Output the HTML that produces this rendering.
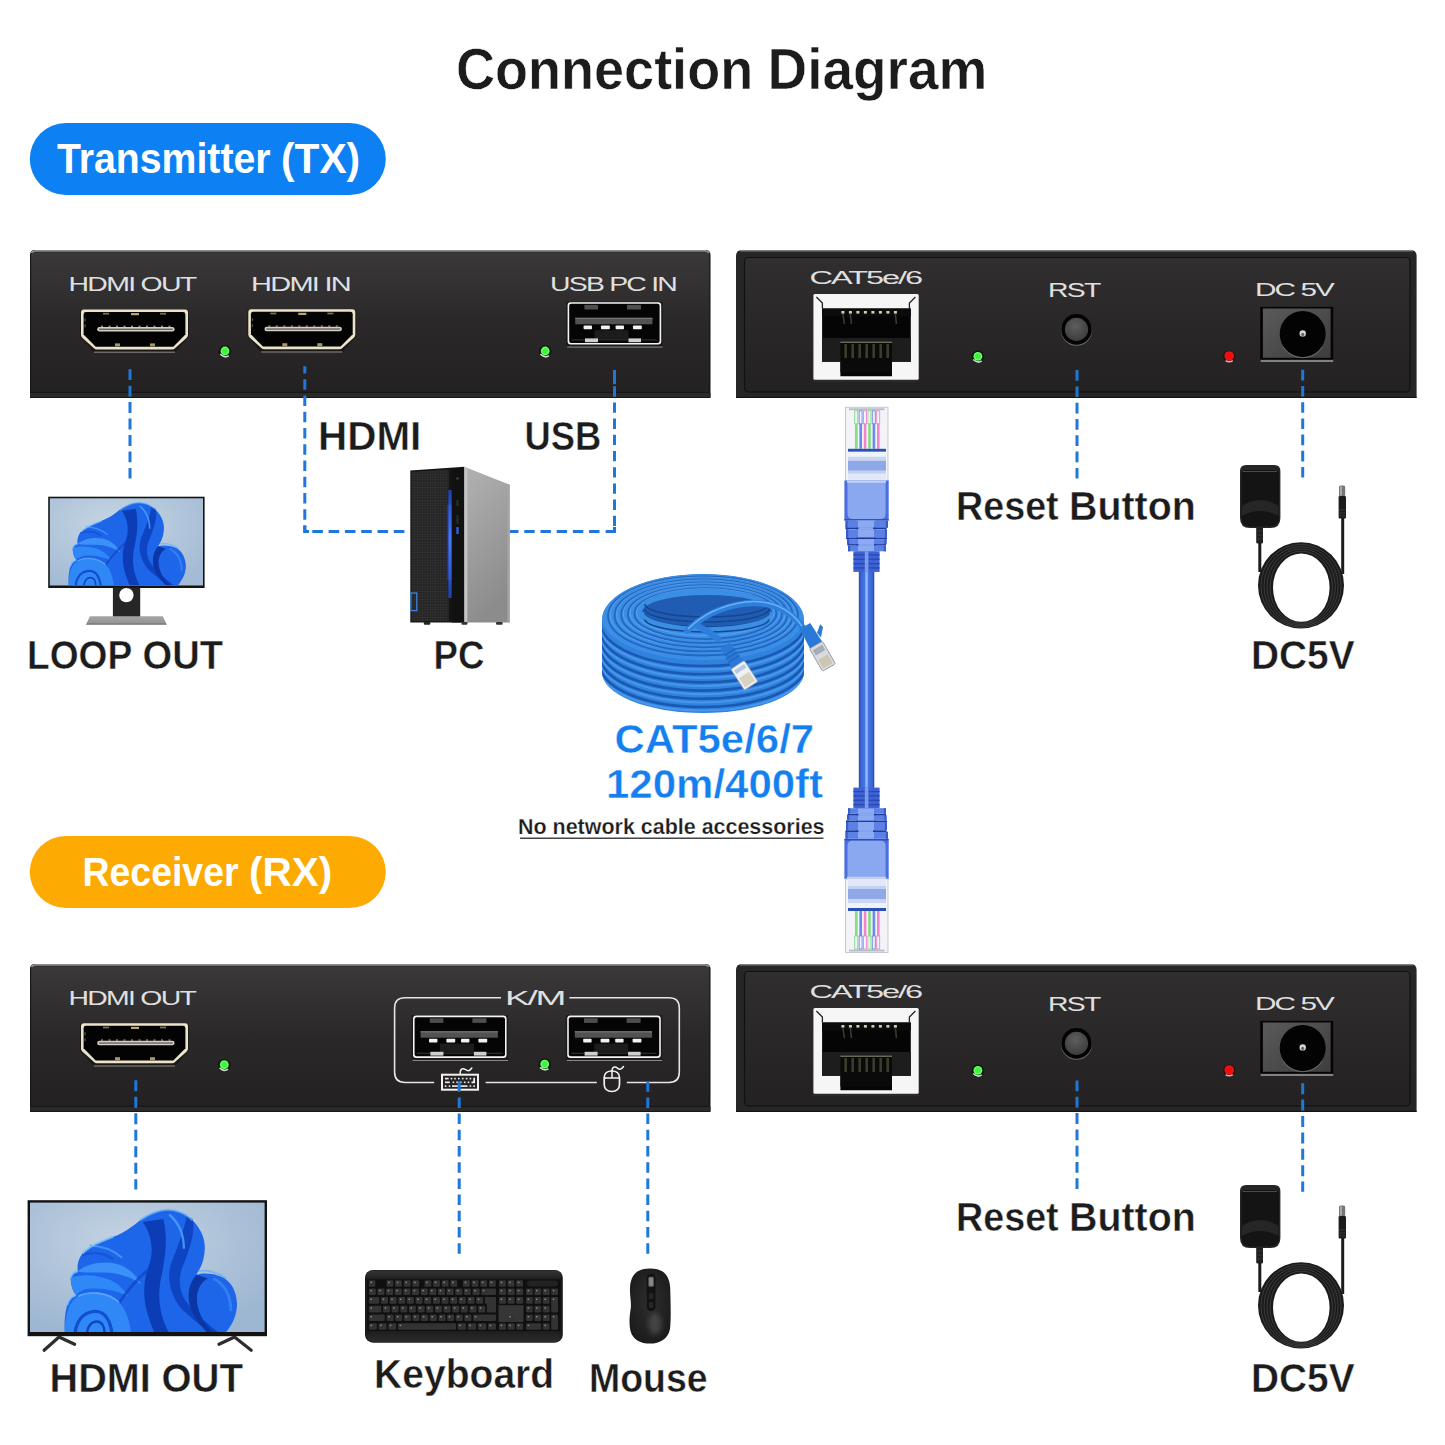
<!DOCTYPE html>
<html><head><meta charset="utf-8"><title>Connection Diagram</title>
<style>html,body{margin:0;padding:0;background:#fff;}svg{display:block;}</style></head>
<body><svg width="1445" height="1445" viewBox="0 0 1445 1445" font-family="Liberation Sans, sans-serif">
<defs>
<linearGradient id="faceL" x1="0" y1="0" x2="0" y2="1"><stop offset="0" stop-color="#3a3839"/><stop offset="0.5" stop-color="#2a2829"/><stop offset="1" stop-color="#232122"/></linearGradient>
<linearGradient id="faceR" x1="0" y1="0" x2="0" y2="1"><stop offset="0" stop-color="#302e2f"/><stop offset="0.5" stop-color="#292728"/><stop offset="1" stop-color="#232122"/></linearGradient>
<linearGradient id="dcg" x1="0" y1="0" x2="1" y2="1"><stop offset="0" stop-color="#5a5a5a"/><stop offset="1" stop-color="#3e3e3e"/></linearGradient>
<radialGradient id="rstg" cx="0.45" cy="0.35" r="0.7"><stop offset="0" stop-color="#5e5e5e"/><stop offset="1" stop-color="#3a3a3a"/></radialGradient>
</defs>
<rect width="1445" height="1445" fill="#ffffff"/>
<defs>
<radialGradient id="scr1" cx="0.42" cy="0.3" r="0.75"><stop offset="0" stop-color="#c6d5e4"/><stop offset="1" stop-color="#a3bbd4"/></radialGradient>
<radialGradient id="scr2" cx="0.42" cy="0.3" r="0.75"><stop offset="0" stop-color="#c4d3e3"/><stop offset="1" stop-color="#9db6d1"/></radialGradient>
<linearGradient id="mb1" x1="0" y1="0" x2="1" y2="1"><stop offset="0" stop-color="#2c7df2"/><stop offset="0.6" stop-color="#1c5fe0"/><stop offset="1" stop-color="#1448c8"/></linearGradient>
<linearGradient id="tb1" x1="0" y1="0" x2="1" y2="1"><stop offset="0" stop-color="#2c7df2"/><stop offset="0.6" stop-color="#1c5fe0"/><stop offset="1" stop-color="#1448c8"/></linearGradient>
<linearGradient id="cableg" x1="0" y1="0" x2="1" y2="0"><stop offset="0" stop-color="#2b4ca8"/><stop offset="0.15" stop-color="#3a66d6"/><stop offset="0.38" stop-color="#4675de"/><stop offset="0.45" stop-color="#8ab4ff"/><stop offset="0.55" stop-color="#8ab4ff"/><stop offset="0.62" stop-color="#4675de"/><stop offset="0.85" stop-color="#3a66d6"/><stop offset="1" stop-color="#2b4ca8"/></linearGradient>
<linearGradient id="base1" x1="0" y1="0" x2="0" y2="1"><stop offset="0" stop-color="#a6a6a6"/><stop offset="0.75" stop-color="#959595"/><stop offset="1" stop-color="#6a6a6a"/></linearGradient>
<linearGradient id="side" x1="0" y1="0" x2="0.3" y2="1"><stop offset="0" stop-color="#b2b2b2"/><stop offset="1" stop-color="#8c8c8c"/></linearGradient>
<pattern id="meshp" width="2.6" height="2.6" patternUnits="userSpaceOnUse"><rect width="2.6" height="2.6" fill="#222"/><circle cx="1.3" cy="1.3" r="0.85" fill="#3a3a3a"/></pattern><linearGradient id="pcblue" x1="0" y1="0" x2="0" y2="1"><stop offset="0" stop-color="#1a3fb0"/><stop offset="0.45" stop-color="#4a7bff"/><stop offset="1" stop-color="#1a3fb0"/></linearGradient>
<linearGradient id="adg" x1="0" y1="0" x2="0" y2="1"><stop offset="0" stop-color="#2a2a2a"/><stop offset="1" stop-color="#151515"/></linearGradient>
<linearGradient id="kbtop" x1="0" y1="0" x2="0" y2="1"><stop offset="0" stop-color="#343434"/><stop offset="1" stop-color="#1e1e1e"/></linearGradient><linearGradient id="kbbot" x1="0" y1="0" x2="0" y2="1"><stop offset="0" stop-color="#1e1e1e"/><stop offset="1" stop-color="#2c2c2c"/></linearGradient>
<filter id="blur3" x="-50%" y="-50%" width="200%" height="200%"><feGaussianBlur stdDeviation="2.6"/></filter>
<radialGradient id="mouseg" cx="0.5" cy="0.45" r="0.7"><stop offset="0" stop-color="#2e2e2e"/><stop offset="0.8" stop-color="#1c1c1c"/><stop offset="1" stop-color="#111"/></radialGradient>
</defs><g>
<rect x="48.2" y="496.7" width="156.4" height="91.3" fill="#141414"/>
<rect x="49.8" y="498.3" width="153.2" height="87.2" fill="url(#scr1)"/>
<clipPath id="clipmon"><rect x="49.8" y="498.3" width="153.2" height="87.2"/></clipPath>
<g clip-path="url(#clipmon)"><g transform="translate(65.7,502.8) scale(1.0,1.0)">
<path d="M3,82.5 C2.5,76 3,70 4.5,64 C6,59 9,57.5 10.7,57.2 C8.5,55 7,50 7,45.5 C8,42 10,41.3 11.8,41.2 C11.2,37 12.5,32 15.1,29.2 C20,24 28,21 36,18 C44,15 49,11 54,7 C60,3 66,0 73,-0.2 C80,0 86,3 90,7 C95,12 98,18 98.2,24 C98.5,30 97,36 94,41 C93,42.5 92.5,43 92.7,43.5 C97,42 104,42.5 110,45 C116,48 119.5,54 120.1,62 C120.5,70 117,77 112.3,82.5 Z" fill="#1d66ea"/>
<path d="M3,82.5 C3,72 5,62 12,58 C20,54 32,55 40,62 C45,67 47,75 48,82.5 Z" fill="#3088f7"/>
<path d="M10,82.5 C11,74 16,68 24,68 C30,68 34,74 35,82.5" stroke="#114fd0" stroke-width="2.2" fill="none"/>
<path d="M18,82.5 C19,77 22,74 26,75 C29,76 30,79 30,82.5" stroke="#0d45c2" stroke-width="1.6" fill="none"/>
<path d="M7,45.5 C14,43 24,43 34,47 C40,50 44,54 46,58 C38,54 28,52 18,53 C14,54 11,56 10.7,57.2 C8.5,55 7,50 7,45.5 Z" fill="#2f88f7"/>
<path d="M11.8,41.2 C18,36 28,34 38,36 C46,38 52,44 55,50 C50,46 40,42 30,42 C22,42 16,42 11.8,41.2 Z" fill="#3c91f8"/>
<path d="M15,30 C22,28 30,29 36,33" stroke="#1556d6" stroke-width="1.8" fill="none"/>
<path d="M20,24 C28,24 36,27 42,32" stroke="#4a9cff" stroke-width="1.3" fill="none" opacity="0.8"/>
<path d="M56,8 C62,16 64,28 60,38 C56,48 56,60 60,72 C62,78 64,82.5 64,82.5 L74,82.5 C68,72 66,60 68,48 C70,38 74,22 70,6 Z" fill="#0c3db6"/>
<path d="M86,4 C84,14 80,24 76,34 C72,44 74,56 82,66 C88,72 96,78 102,82.5 L108,82.5 C100,76 92,70 86,62 C80,54 80,44 84,36 C88,26 92,14 90,6 Z" fill="#0e44c2"/>
<path d="M92.7,43.5 C88,48 86,56 88,64 C90,72 96,78 100,82.5 L104,82.5 C98,76 94,70 93,62 C92,54 96,48 100.3,46 Z" fill="#0a36a6"/>
<path d="M74,3 C80,8 84,16 84,26" stroke="#4d9dfa" stroke-width="1.6" fill="none" opacity="0.85"/>
<path d="M104,46 C112,50 116,58 116,68" stroke="#3a86f4" stroke-width="2" fill="none" opacity="0.8"/>
<path d="M40,62 C46,54 52,46 60,40" stroke="#1049c6" stroke-width="2" fill="none" opacity="0.8"/>
<path d="M4.5,64 C6,59 9,57.5 10.7,57.2 M7,45.5 C8,42 10,41.3 11.8,41.2 M15.1,29.2 C20,24 28,21 36,18" stroke="#7cc0ff" stroke-width="1.4" fill="none" opacity="0.8"/>
<path d="M54,7 C60,3 66,0 73,-0.2 C80,0 86,3 90,7" stroke="#6ab4ff" stroke-width="1.4" fill="none" opacity="0.7"/>
<path d="M12,58 C20,54 32,55 40,62" stroke="#6ab4ff" stroke-width="1.2" fill="none" opacity="0.7"/>
<path d="M94,41 C100,40 108,42 113,46" stroke="#5aa8ff" stroke-width="1.2" fill="none" opacity="0.6"/>
</g></g>
<rect x="112.9" y="587.6" width="27.3" height="30.6" fill="#262626"/>
<circle cx="126.4" cy="595.1" r="7.2" fill="#fff"/>
<path d="M89.9,616.2 H162.8 L166.8,624.7 H85.9 Z" fill="url(#base1)"/>
</g><g>
<path d="M410.3,470.6 L464.4,466.8 V622.5 H410.3 Z" fill="#151515"/>
<path d="M411.6,472 L448.5,469.6 V621.2 H411.6 Z" fill="url(#meshp)"/>
<rect x="448.4" y="490" width="3.4" height="108" fill="url(#pcblue)"/>
<rect x="446.8" y="505" width="6.6" height="75" fill="#2f6bff" opacity="0.25"/>
<rect x="451.8" y="468" width="12.6" height="154.5" fill="#111"/>
<circle cx="457.5" cy="478.5" r="1.4" fill="#3a3a3a"/>
<rect x="456.4" y="500" width="2.2" height="6" fill="#2c2c2c"/><rect x="456.4" y="515" width="2.2" height="9" fill="#2a2a2a"/><rect x="456.2" y="527" width="2.6" height="7" fill="#2f58c8"/>
<path d="M464.4,466.8 L509.7,484.7 V622.5 H464.4 Z" fill="url(#side)"/>
<path d="M464.4,466.8 L467.4,468 V622.5 H464.4 Z" fill="#c4c4c4"/>
<path d="M507.5,483.8 L509.7,484.7 V622.5 H507.5 Z" fill="#a6a6a6"/>
<rect x="410.9" y="593" width="5.9" height="17.6" fill="none" stroke="#3d82d8" stroke-width="1.3"/>
<rect x="423.8" y="622" width="6.5" height="2.8" rx="1" fill="#222"/><rect x="461.5" y="622" width="6" height="2.8" rx="1" fill="#333"/><rect x="496" y="622" width="6.6" height="2.8" rx="1" fill="#333"/>
</g><g><clipPath id="coilclip"><path d="M602,620 A101,46 0 0 1 804,620 V672 A101,41 0 0 1 602,672 Z"/></clipPath><path d="M602,620 A101,46 0 0 1 804,620 V672 A101,41 0 0 1 602,672 Z" fill="#2f82de"/><g clip-path="url(#coilclip)"><path d="M596,580.0 A107,50 0 0 0 810,580.0" transform="translate(0,0)" stroke="none" fill="none"/><path d="M596,588.6 A107,50 0 0 0 810,588.6" transform="translate(0,0)" stroke="none" fill="none"/><path d="M596,597.2 A107,50 0 0 0 810,597.2" transform="translate(0,0)" stroke="none" fill="none"/><path d="M596,605.8 A107,50 0 0 0 810,605.8" transform="translate(0,0)" stroke="none" fill="none"/><path d="M596,614.4 A107,50 0 0 0 810,614.4" transform="translate(0,0)" stroke="none" fill="none"/><path d="M596,623.0 A107,50 0 0 0 810,623.0" transform="translate(0,0)" stroke="none" fill="none"/><path d="M596,631.6 A107,50 0 0 0 810,631.6" transform="translate(0,0)" stroke="none" fill="none"/><path d="M596,640.2 A107,50 0 0 0 810,640.2" transform="translate(0,0)" stroke="none" fill="none"/><path d="M596,648.8 A107,50 0 0 0 810,648.8" transform="translate(0,0)" stroke="none" fill="none"/><path d="M596,657.4 A107,50 0 0 0 810,657.4" transform="translate(0,0)" stroke="none" fill="none"/><path d="M600,622.0 A103,44.0 0 0 0 806,622.0" stroke="#1b58b4" stroke-width="2.6" fill="none"/><path d="M600,625.6 A103,44.0 0 0 0 806,625.6" stroke="#4d9cee" stroke-width="2" fill="none" opacity="0.8"/><path d="M600,630.6 A103,43.6 0 0 0 806,630.6" stroke="#1b58b4" stroke-width="2.6" fill="none"/><path d="M600,634.2 A103,43.6 0 0 0 806,634.2" stroke="#4d9cee" stroke-width="2" fill="none" opacity="0.8"/><path d="M600,639.2 A103,43.2 0 0 0 806,639.2" stroke="#1b58b4" stroke-width="2.6" fill="none"/><path d="M600,642.8000000000001 A103,43.2 0 0 0 806,642.8000000000001" stroke="#4d9cee" stroke-width="2" fill="none" opacity="0.8"/><path d="M600,647.8 A103,42.8 0 0 0 806,647.8" stroke="#1b58b4" stroke-width="2.6" fill="none"/><path d="M600,651.4 A103,42.8 0 0 0 806,651.4" stroke="#4d9cee" stroke-width="2" fill="none" opacity="0.8"/><path d="M600,656.4 A103,42.4 0 0 0 806,656.4" stroke="#1b58b4" stroke-width="2.6" fill="none"/><path d="M600,660.0 A103,42.4 0 0 0 806,660.0" stroke="#4d9cee" stroke-width="2" fill="none" opacity="0.8"/><path d="M600,665.0 A103,42.0 0 0 0 806,665.0" stroke="#1b58b4" stroke-width="2.6" fill="none"/><path d="M600,668.6 A103,42.0 0 0 0 806,668.6" stroke="#4d9cee" stroke-width="2" fill="none" opacity="0.8"/><path d="M600,673.6 A103,41.6 0 0 0 806,673.6" stroke="#1b58b4" stroke-width="2.6" fill="none"/><path d="M600,677.2 A103,41.6 0 0 0 806,677.2" stroke="#4d9cee" stroke-width="2" fill="none" opacity="0.8"/><path d="M600,682.2 A103,41.2 0 0 0 806,682.2" stroke="#1b58b4" stroke-width="2.6" fill="none"/><path d="M600,685.8000000000001 A103,41.2 0 0 0 806,685.8000000000001" stroke="#4d9cee" stroke-width="2" fill="none" opacity="0.8"/><path d="M600,690.8 A103,40.8 0 0 0 806,690.8" stroke="#1b58b4" stroke-width="2.6" fill="none"/><path d="M600,694.4 A103,40.8 0 0 0 806,694.4" stroke="#4d9cee" stroke-width="2" fill="none" opacity="0.8"/><path d="M600,699.4 A103,40.4 0 0 0 806,699.4" stroke="#1b58b4" stroke-width="2.6" fill="none"/><path d="M600,703.0 A103,40.4 0 0 0 806,703.0" stroke="#4d9cee" stroke-width="2" fill="none" opacity="0.8"/><ellipse cx="703" cy="617" rx="101" ry="43" fill="#3a8fe4"/><ellipse cx="703.0" cy="616.0" rx="95" ry="39.5" fill="none" stroke="#2366c4" stroke-width="1.8"/><ellipse cx="703.0" cy="614.5" rx="93" ry="37.5" fill="none" stroke="#62abf2" stroke-width="1" opacity="0.7"/><ellipse cx="703.6" cy="615.4" rx="89" ry="36" fill="none" stroke="#2366c4" stroke-width="1.8"/><ellipse cx="703.6" cy="613.9" rx="87" ry="34" fill="none" stroke="#62abf2" stroke-width="1" opacity="0.7"/><ellipse cx="704.2" cy="614.8" rx="83" ry="32.5" fill="none" stroke="#2366c4" stroke-width="1.8"/><ellipse cx="704.2" cy="613.3" rx="81" ry="30.5" fill="none" stroke="#62abf2" stroke-width="1" opacity="0.7"/><ellipse cx="704.8" cy="614.2" rx="77" ry="29" fill="none" stroke="#2366c4" stroke-width="1.8"/><ellipse cx="704.8" cy="612.7" rx="75" ry="27" fill="none" stroke="#62abf2" stroke-width="1" opacity="0.7"/><ellipse cx="705.4" cy="613.6" rx="71" ry="25.5" fill="none" stroke="#2366c4" stroke-width="1.8"/><ellipse cx="705.4" cy="612.1" rx="69" ry="23.5" fill="none" stroke="#62abf2" stroke-width="1" opacity="0.7"/><ellipse cx="707" cy="612" rx="65" ry="17" fill="#1f5cb2"/><path d="M645,604 A62,13 0 0 0 769,604" stroke="#15468f" stroke-width="1.6" fill="none"/><path d="M645,609 A62,13 0 0 0 769,609" stroke="#15468f" stroke-width="1.6" fill="none"/><path d="M645,614 A62,13 0 0 0 769,614" stroke="#15468f" stroke-width="1.6" fill="none"/><path d="M645,619 A62,13 0 0 0 769,619" stroke="#15468f" stroke-width="1.6" fill="none"/><path d="M642,612 A65,17 0 0 0 772,612" stroke="#3a8fe4" stroke-width="3.5" fill="none"/></g><path d="M687,631 C700,618 720,607 745,603.5 C770,601 790,609 803,628" stroke="#2e7fdc" stroke-width="6.3" fill="none" stroke-linecap="round"/><path d="M688,629 C701,616 721,605.5 745,602 C769,599.5 789,607.5 802,626" stroke="#6ab0f4" stroke-width="1.6" fill="none"/><path d="M699,627 C706,630 712,634 718,639" stroke="#2e7fdc" stroke-width="6.3" fill="none" stroke-linecap="round"/><g transform="translate(737,664) rotate(-33)"><path d="M-5,-22 H5 L7,2 H-7 Z" fill="#2a78d8"/><g stroke="#1d5fb8" stroke-width="1"><line x1="-6" y1="-14" x2="6" y2="-14"/><line x1="-6.3" y1="-10" x2="6.3" y2="-10"/><line x1="-6.6" y1="-6" x2="6.6" y2="-6"/></g><rect x="-8" y="1" width="16" height="25" rx="1.5" fill="#eef1f5" stroke="#9aa6b4" stroke-width="0.8"/><rect x="-6" y="13" width="12" height="11" fill="#cfc8ae" opacity="0.75"/><rect x="-6" y="4" width="12" height="4" fill="#b8c8e0"/></g><g transform="translate(816,645) rotate(-30)"><path d="M-6,-22 H6 L7,0 H-7 Z" fill="#2a78d8"/><path d="M7,-10 L14,-16 L15,-12 L8,-4 Z" fill="#2a78d8"/><rect x="-7.5" y="0" width="15" height="26" rx="1.5" fill="#d8dbe0" stroke="#8a929c" stroke-width="0.8"/><rect x="-5.5" y="3" width="11" height="6" fill="#a8adb5"/><rect x="-5.5" y="14" width="11" height="10" fill="#c8c2a6" opacity="0.8"/></g></g><g><rect x="858.8" y="570" width="15.5" height="220" fill="url(#cableg)"/><g transform="translate(0,406.8)"><g><rect x="845.5" y="0.5" width="42.5" height="73.5" fill="#f2f4fa" stroke="#c4c8d0" stroke-width="1"/><rect x="849" y="1.5" width="35.5" height="2" fill="#b8bcc4"/><rect x="850.3" y="4" width="3" height="13" fill="none" stroke="#f4f4f4" stroke-width="0.9"/><rect x="850.5999999999999" y="17" width="2.6" height="25" fill="#f4f4f4"/><rect x="854.6999999999999" y="4" width="3" height="13" fill="none" stroke="#7ee07e" stroke-width="0.9"/><rect x="854.9999999999999" y="17" width="2.6" height="25" fill="#7ee07e"/><rect x="859.0999999999999" y="4" width="3" height="13" fill="none" stroke="#7088e6" stroke-width="0.9"/><rect x="859.3999999999999" y="17" width="2.6" height="25" fill="#7088e6"/><rect x="863.5" y="4" width="3" height="13" fill="none" stroke="#ee88c8" stroke-width="0.9"/><rect x="863.8" y="17" width="2.6" height="25" fill="#ee88c8"/><rect x="867.9" y="4" width="3" height="13" fill="none" stroke="#7ee07e" stroke-width="0.9"/><rect x="868.1999999999999" y="17" width="2.6" height="25" fill="#7ee07e"/><rect x="872.3" y="4" width="3" height="13" fill="none" stroke="#7088e6" stroke-width="0.9"/><rect x="872.5999999999999" y="17" width="2.6" height="25" fill="#7088e6"/><rect x="876.6999999999999" y="4" width="3" height="13" fill="none" stroke="#ee88c8" stroke-width="0.9"/><rect x="876.9999999999999" y="17" width="2.6" height="25" fill="#ee88c8"/><rect x="881.0999999999999" y="4" width="3" height="13" fill="none" stroke="#f4f4f4" stroke-width="0.9"/><rect x="881.3999999999999" y="17" width="2.6" height="25" fill="#f4f4f4"/><rect x="848" y="42" width="38" height="3" fill="#2b4fb2"/><rect x="848" y="45" width="38" height="5" fill="#eef2fb"/><rect x="848" y="50" width="38" height="4" fill="#c9d5f2"/><rect x="848" y="54" width="38" height="10" fill="#8ea8e8"/><rect x="848" y="64" width="38" height="3" fill="#c4d0f0"/><rect x="848" y="67" width="38" height="7" fill="#e2e8f7"/></g></g><g transform="translate(0,480.5)"><g><rect x="844.4" y="0" width="44.3" height="39.8" fill="#4a6ee0"/><path d="M847.5,0.5 H885.6 V33 Q885.6,38.5 880,38.5 H853 Q847.5,38.5 847.5,33 Z" fill="#8aa8f0"/><rect x="847" y="0" width="39" height="2.2" fill="#c4d2f5"/><rect x="844.4" y="38.6" width="44.3" height="1.6" fill="#2f4fb8"/><rect x="856" y="40" width="20" height="31" fill="#8caaf2"/><rect x="845.5" y="40.2" width="42.5" height="7" fill="#5b80e6"/><rect x="858" y="40.2" width="16" height="7" fill="#8caaf2"/><rect x="845.5" y="40.2" width="2.2" height="7" fill="#3a5cc8"/><rect x="885.8" y="40.2" width="2.2" height="7" fill="#3a5cc8"/><rect x="845.5" y="47" width="13" height="1.8" fill="#1e3a9a"/><rect x="873" y="47" width="13.5" height="1.8" fill="#1e3a9a"/><rect x="846" y="48.8" width="41" height="8.2" fill="#5b80e6"/><rect x="858" y="48.8" width="16" height="8.2" fill="#8caaf2"/><rect x="846" y="48.8" width="2.2" height="8.2" fill="#3a5cc8"/><rect x="884.8" y="48.8" width="2.2" height="8.2" fill="#3a5cc8"/><rect x="846" y="57" width="41" height="1.6" fill="#1e3a9a"/><rect x="847" y="58.6" width="39.5" height="5.2" fill="#5b80e6"/><rect x="858" y="58.6" width="16" height="5.2" fill="#8caaf2"/><rect x="847" y="58.6" width="2.2" height="5.2" fill="#3a5cc8"/><rect x="884.3" y="58.6" width="2.2" height="5.2" fill="#3a5cc8"/><rect x="847.5" y="63.6" width="11" height="1.6" fill="#1e3a9a"/><rect x="874" y="63.6" width="12" height="1.6" fill="#1e3a9a"/><rect x="848" y="65.2" width="38" height="5.6" fill="#5b80e6"/><rect x="858" y="65.2" width="16" height="5.6" fill="#8caaf2"/><rect x="848" y="65.2" width="2.2" height="5.6" fill="#3a5cc8"/><rect x="883.8" y="65.2" width="2.2" height="5.6" fill="#3a5cc8"/><rect x="853.4" y="70.8" width="26.2" height="20.6" fill="#3d62d6"/><rect x="853.4" y="73.7" width="26.2" height="1.3" fill="#2a48b0"/><rect x="853.4" y="78.1" width="26.2" height="1.3" fill="#2a48b0"/><rect x="853.4" y="82.5" width="26.2" height="1.3" fill="#2a48b0"/><rect x="853.4" y="86.8" width="26.2" height="1.3" fill="#2a48b0"/><rect x="864.8" y="70.8" width="3.6" height="20.6" fill="#7a9cee"/></g></g><g transform="translate(0,879) scale(1,-1)"><g><rect x="844.4" y="0" width="44.3" height="39.8" fill="#4a6ee0"/><path d="M847.5,0.5 H885.6 V33 Q885.6,38.5 880,38.5 H853 Q847.5,38.5 847.5,33 Z" fill="#8aa8f0"/><rect x="847" y="0" width="39" height="2.2" fill="#c4d2f5"/><rect x="844.4" y="38.6" width="44.3" height="1.6" fill="#2f4fb8"/><rect x="856" y="40" width="20" height="31" fill="#8caaf2"/><rect x="845.5" y="40.2" width="42.5" height="7" fill="#5b80e6"/><rect x="858" y="40.2" width="16" height="7" fill="#8caaf2"/><rect x="845.5" y="40.2" width="2.2" height="7" fill="#3a5cc8"/><rect x="885.8" y="40.2" width="2.2" height="7" fill="#3a5cc8"/><rect x="845.5" y="47" width="13" height="1.8" fill="#1e3a9a"/><rect x="873" y="47" width="13.5" height="1.8" fill="#1e3a9a"/><rect x="846" y="48.8" width="41" height="8.2" fill="#5b80e6"/><rect x="858" y="48.8" width="16" height="8.2" fill="#8caaf2"/><rect x="846" y="48.8" width="2.2" height="8.2" fill="#3a5cc8"/><rect x="884.8" y="48.8" width="2.2" height="8.2" fill="#3a5cc8"/><rect x="846" y="57" width="41" height="1.6" fill="#1e3a9a"/><rect x="847" y="58.6" width="39.5" height="5.2" fill="#5b80e6"/><rect x="858" y="58.6" width="16" height="5.2" fill="#8caaf2"/><rect x="847" y="58.6" width="2.2" height="5.2" fill="#3a5cc8"/><rect x="884.3" y="58.6" width="2.2" height="5.2" fill="#3a5cc8"/><rect x="847.5" y="63.6" width="11" height="1.6" fill="#1e3a9a"/><rect x="874" y="63.6" width="12" height="1.6" fill="#1e3a9a"/><rect x="848" y="65.2" width="38" height="5.6" fill="#5b80e6"/><rect x="858" y="65.2" width="16" height="5.6" fill="#8caaf2"/><rect x="848" y="65.2" width="2.2" height="5.6" fill="#3a5cc8"/><rect x="883.8" y="65.2" width="2.2" height="5.6" fill="#3a5cc8"/><rect x="853.4" y="70.8" width="26.2" height="20.6" fill="#3d62d6"/><rect x="853.4" y="73.7" width="26.2" height="1.3" fill="#2a48b0"/><rect x="853.4" y="78.1" width="26.2" height="1.3" fill="#2a48b0"/><rect x="853.4" y="82.5" width="26.2" height="1.3" fill="#2a48b0"/><rect x="853.4" y="86.8" width="26.2" height="1.3" fill="#2a48b0"/><rect x="864.8" y="70.8" width="3.6" height="20.6" fill="#7a9cee"/></g></g><g transform="translate(0,953) scale(1,-1)"><g><rect x="845.5" y="0.5" width="42.5" height="73.5" fill="#f2f4fa" stroke="#c4c8d0" stroke-width="1"/><rect x="849" y="1.5" width="35.5" height="2" fill="#b8bcc4"/><rect x="850.3" y="4" width="3" height="13" fill="none" stroke="#f4f4f4" stroke-width="0.9"/><rect x="850.5999999999999" y="17" width="2.6" height="25" fill="#f4f4f4"/><rect x="854.6999999999999" y="4" width="3" height="13" fill="none" stroke="#7ee07e" stroke-width="0.9"/><rect x="854.9999999999999" y="17" width="2.6" height="25" fill="#7ee07e"/><rect x="859.0999999999999" y="4" width="3" height="13" fill="none" stroke="#7088e6" stroke-width="0.9"/><rect x="859.3999999999999" y="17" width="2.6" height="25" fill="#7088e6"/><rect x="863.5" y="4" width="3" height="13" fill="none" stroke="#ee88c8" stroke-width="0.9"/><rect x="863.8" y="17" width="2.6" height="25" fill="#ee88c8"/><rect x="867.9" y="4" width="3" height="13" fill="none" stroke="#7ee07e" stroke-width="0.9"/><rect x="868.1999999999999" y="17" width="2.6" height="25" fill="#7ee07e"/><rect x="872.3" y="4" width="3" height="13" fill="none" stroke="#7088e6" stroke-width="0.9"/><rect x="872.5999999999999" y="17" width="2.6" height="25" fill="#7088e6"/><rect x="876.6999999999999" y="4" width="3" height="13" fill="none" stroke="#ee88c8" stroke-width="0.9"/><rect x="876.9999999999999" y="17" width="2.6" height="25" fill="#ee88c8"/><rect x="881.0999999999999" y="4" width="3" height="13" fill="none" stroke="#f4f4f4" stroke-width="0.9"/><rect x="881.3999999999999" y="17" width="2.6" height="25" fill="#f4f4f4"/><rect x="848" y="42" width="38" height="3" fill="#2b4fb2"/><rect x="848" y="45" width="38" height="5" fill="#eef2fb"/><rect x="848" y="50" width="38" height="4" fill="#c9d5f2"/><rect x="848" y="54" width="38" height="10" fill="#8ea8e8"/><rect x="848" y="64" width="38" height="3" fill="#c4d0f0"/><rect x="848" y="67" width="38" height="7" fill="#e2e8f7"/></g></g></g><g transform="translate(0,0)">
<path d="M1258,585.4 A43,43.2 0 1 0 1344,585.4 A43,43.2 0 1 0 1258,585.4 Z M1273.0,587.6 A28.3,34.2 0 1 1 1329.6,587.6 A28.3,34.2 0 1 1 1273.0,587.6 Z" fill="#1b1b1b" fill-rule="evenodd"/>
<ellipse cx="1301.24" cy="587.16" rx="31.24" ry="36.00" fill="none" stroke="#505050" stroke-width="0.6"/><ellipse cx="1301.18" cy="586.72" rx="34.18" ry="37.80" fill="none" stroke="#505050" stroke-width="0.6"/><ellipse cx="1301.12" cy="586.28" rx="37.12" ry="39.60" fill="none" stroke="#505050" stroke-width="0.6"/><ellipse cx="1301.06" cy="585.84" rx="40.06" ry="41.40" fill="none" stroke="#505050" stroke-width="0.6"/>
<path d="M1259.8,543 V572" stroke="#1b1b1b" stroke-width="3"/>
<path d="M1342.7,518 V574" stroke="#1b1b1b" stroke-width="3"/>
<rect x="1339" y="485.5" width="6.2" height="11" rx="1.5" fill="#777"/>
<rect x="1340" y="486.5" width="2" height="9" fill="#aaa"/>
<rect x="1338.6" y="496" width="7.4" height="22.5" rx="1.2" fill="#1c1c1c"/>
<g stroke="#444" stroke-width="0.7"><line x1="1339" y1="510" x2="1345.6" y2="510"/><line x1="1339" y1="513" x2="1345.6" y2="513"/><line x1="1339" y1="516" x2="1345.6" y2="516"/></g>
<rect x="1256.2" y="526" width="6.8" height="17.4" rx="1.5" fill="#1e1e1e"/>
<g stroke="#444" stroke-width="0.7"><line x1="1256.5" y1="531" x2="1262.7" y2="531"/><line x1="1256.5" y1="535" x2="1262.7" y2="535"/><line x1="1256.5" y1="539" x2="1262.7" y2="539"/></g>
<path d="M1246,465 H1274.4 Q1280.4,465 1280.4,471 V518 Q1280.4,528 1270.4,528 H1250 Q1240,528 1240,518 V471 Q1240,465 1246,465 Z" fill="#262626"/>
<path d="M1246,470 H1274.4 Q1279,470 1279,475 V517 Q1279,526.5 1270,526.5 H1250.4 Q1241.4,526.5 1241.4,517 V475 Q1241.4,470 1246,470 Z" fill="#141414"/>
<path d="M1242,506 Q1260,494 1278.6,506 V516 Q1260,506 1242,516 Z" fill="#2a2a2a" opacity="0.8"/>
<path d="M1243,471.5 H1277" stroke="#4a4a4a" stroke-width="1"/>
</g><g transform="translate(0,720)">
<path d="M1258,585.4 A43,43.2 0 1 0 1344,585.4 A43,43.2 0 1 0 1258,585.4 Z M1273.0,587.6 A28.3,34.2 0 1 1 1329.6,587.6 A28.3,34.2 0 1 1 1273.0,587.6 Z" fill="#1b1b1b" fill-rule="evenodd"/>
<ellipse cx="1301.24" cy="587.16" rx="31.24" ry="36.00" fill="none" stroke="#505050" stroke-width="0.6"/><ellipse cx="1301.18" cy="586.72" rx="34.18" ry="37.80" fill="none" stroke="#505050" stroke-width="0.6"/><ellipse cx="1301.12" cy="586.28" rx="37.12" ry="39.60" fill="none" stroke="#505050" stroke-width="0.6"/><ellipse cx="1301.06" cy="585.84" rx="40.06" ry="41.40" fill="none" stroke="#505050" stroke-width="0.6"/>
<path d="M1259.8,543 V572" stroke="#1b1b1b" stroke-width="3"/>
<path d="M1342.7,518 V574" stroke="#1b1b1b" stroke-width="3"/>
<rect x="1339" y="485.5" width="6.2" height="11" rx="1.5" fill="#777"/>
<rect x="1340" y="486.5" width="2" height="9" fill="#aaa"/>
<rect x="1338.6" y="496" width="7.4" height="22.5" rx="1.2" fill="#1c1c1c"/>
<g stroke="#444" stroke-width="0.7"><line x1="1339" y1="510" x2="1345.6" y2="510"/><line x1="1339" y1="513" x2="1345.6" y2="513"/><line x1="1339" y1="516" x2="1345.6" y2="516"/></g>
<rect x="1256.2" y="526" width="6.8" height="17.4" rx="1.5" fill="#1e1e1e"/>
<g stroke="#444" stroke-width="0.7"><line x1="1256.5" y1="531" x2="1262.7" y2="531"/><line x1="1256.5" y1="535" x2="1262.7" y2="535"/><line x1="1256.5" y1="539" x2="1262.7" y2="539"/></g>
<path d="M1246,465 H1274.4 Q1280.4,465 1280.4,471 V518 Q1280.4,528 1270.4,528 H1250 Q1240,528 1240,518 V471 Q1240,465 1246,465 Z" fill="#262626"/>
<path d="M1246,470 H1274.4 Q1279,470 1279,475 V517 Q1279,526.5 1270,526.5 H1250.4 Q1241.4,526.5 1241.4,517 V475 Q1241.4,470 1246,470 Z" fill="#141414"/>
<path d="M1242,506 Q1260,494 1278.6,506 V516 Q1260,506 1242,516 Z" fill="#2a2a2a" opacity="0.8"/>
<path d="M1243,471.5 H1277" stroke="#4a4a4a" stroke-width="1"/>
</g><g>
<rect x="27.6" y="1200.2" width="239.4" height="136" fill="#121212"/>
<rect x="30" y="1202.6" width="234.6" height="129.4" fill="url(#scr2)"/>
<clipPath id="cliptv"><rect x="30" y="1202.6" width="234.6" height="129.4"/></clipPath>
<g clip-path="url(#cliptv)"><g transform="translate(60.4,1210) scale(1.47,1.49)">
<path d="M3,82.5 C2.5,76 3,70 4.5,64 C6,59 9,57.5 10.7,57.2 C8.5,55 7,50 7,45.5 C8,42 10,41.3 11.8,41.2 C11.2,37 12.5,32 15.1,29.2 C20,24 28,21 36,18 C44,15 49,11 54,7 C60,3 66,0 73,-0.2 C80,0 86,3 90,7 C95,12 98,18 98.2,24 C98.5,30 97,36 94,41 C93,42.5 92.5,43 92.7,43.5 C97,42 104,42.5 110,45 C116,48 119.5,54 120.1,62 C120.5,70 117,77 112.3,82.5 Z" fill="#1d66ea"/>
<path d="M3,82.5 C3,72 5,62 12,58 C20,54 32,55 40,62 C45,67 47,75 48,82.5 Z" fill="#3088f7"/>
<path d="M10,82.5 C11,74 16,68 24,68 C30,68 34,74 35,82.5" stroke="#114fd0" stroke-width="2.2" fill="none"/>
<path d="M18,82.5 C19,77 22,74 26,75 C29,76 30,79 30,82.5" stroke="#0d45c2" stroke-width="1.6" fill="none"/>
<path d="M7,45.5 C14,43 24,43 34,47 C40,50 44,54 46,58 C38,54 28,52 18,53 C14,54 11,56 10.7,57.2 C8.5,55 7,50 7,45.5 Z" fill="#2f88f7"/>
<path d="M11.8,41.2 C18,36 28,34 38,36 C46,38 52,44 55,50 C50,46 40,42 30,42 C22,42 16,42 11.8,41.2 Z" fill="#3c91f8"/>
<path d="M15,30 C22,28 30,29 36,33" stroke="#1556d6" stroke-width="1.8" fill="none"/>
<path d="M20,24 C28,24 36,27 42,32" stroke="#4a9cff" stroke-width="1.3" fill="none" opacity="0.8"/>
<path d="M56,8 C62,16 64,28 60,38 C56,48 56,60 60,72 C62,78 64,82.5 64,82.5 L74,82.5 C68,72 66,60 68,48 C70,38 74,22 70,6 Z" fill="#0c3db6"/>
<path d="M86,4 C84,14 80,24 76,34 C72,44 74,56 82,66 C88,72 96,78 102,82.5 L108,82.5 C100,76 92,70 86,62 C80,54 80,44 84,36 C88,26 92,14 90,6 Z" fill="#0e44c2"/>
<path d="M92.7,43.5 C88,48 86,56 88,64 C90,72 96,78 100,82.5 L104,82.5 C98,76 94,70 93,62 C92,54 96,48 100.3,46 Z" fill="#0a36a6"/>
<path d="M74,3 C80,8 84,16 84,26" stroke="#4d9dfa" stroke-width="1.6" fill="none" opacity="0.85"/>
<path d="M104,46 C112,50 116,58 116,68" stroke="#3a86f4" stroke-width="2" fill="none" opacity="0.8"/>
<path d="M40,62 C46,54 52,46 60,40" stroke="#1049c6" stroke-width="2" fill="none" opacity="0.8"/>
<path d="M4.5,64 C6,59 9,57.5 10.7,57.2 M7,45.5 C8,42 10,41.3 11.8,41.2 M15.1,29.2 C20,24 28,21 36,18" stroke="#7cc0ff" stroke-width="1.4" fill="none" opacity="0.8"/>
<path d="M54,7 C60,3 66,0 73,-0.2 C80,0 86,3 90,7" stroke="#6ab4ff" stroke-width="1.4" fill="none" opacity="0.7"/>
<path d="M12,58 C20,54 32,55 40,62" stroke="#6ab4ff" stroke-width="1.2" fill="none" opacity="0.7"/>
<path d="M94,41 C100,40 108,42 113,46" stroke="#5aa8ff" stroke-width="1.2" fill="none" opacity="0.6"/>
</g></g>
<path d="M44.1,1350.3 L59,1337 L74.6,1344.3" stroke="#2e2e2e" stroke-width="3.2" fill="none" stroke-linecap="round" stroke-linejoin="round"/>
<path d="M251.2,1350.3 L234.5,1337 L219,1344.3" stroke="#2e2e2e" stroke-width="3.2" fill="none" stroke-linecap="round" stroke-linejoin="round"/>
</g><g><rect x="365" y="1270" width="197.8" height="72.7" rx="8" fill="#1b1b1b"/><rect x="366" y="1270.6" width="195.8" height="9" rx="7" fill="url(#kbtop)"/><rect x="367" y="1331.5" width="194" height="10.5" rx="6" fill="url(#kbbot)"/><rect x="367.5" y="1279.5" width="193" height="51.5" fill="#0f0f0f"/><rect x="368.8" y="1280.2" width="6.5" height="6.6" rx="1" fill="#333333"/><rect x="370.4" y="1281.7" width="1.6" height="1.4" fill="#8a8a8a"/><rect x="386.5" y="1280.2" width="6.8" height="6.6" rx="1" fill="#333333"/><rect x="388.1" y="1281.7" width="1.6" height="1.4" fill="#8a8a8a"/><rect x="395.1" y="1280.2" width="6.8" height="6.6" rx="1" fill="#333333"/><rect x="396.8" y="1281.7" width="1.6" height="1.4" fill="#8a8a8a"/><rect x="403.8" y="1280.2" width="6.8" height="6.6" rx="1" fill="#333333"/><rect x="405.4" y="1281.7" width="1.6" height="1.4" fill="#8a8a8a"/><rect x="412.4" y="1280.2" width="6.8" height="6.6" rx="1" fill="#333333"/><rect x="414.1" y="1281.7" width="1.6" height="1.4" fill="#8a8a8a"/><rect x="424.5" y="1280.2" width="6.8" height="6.6" rx="1" fill="#333333"/><rect x="426.1" y="1281.7" width="1.6" height="1.4" fill="#8a8a8a"/><rect x="433.1" y="1280.2" width="6.8" height="6.6" rx="1" fill="#333333"/><rect x="434.8" y="1281.7" width="1.6" height="1.4" fill="#8a8a8a"/><rect x="441.8" y="1280.2" width="6.8" height="6.6" rx="1" fill="#333333"/><rect x="443.4" y="1281.7" width="1.6" height="1.4" fill="#8a8a8a"/><rect x="450.4" y="1280.2" width="6.8" height="6.6" rx="1" fill="#333333"/><rect x="452.1" y="1281.7" width="1.6" height="1.4" fill="#8a8a8a"/><rect x="463.0" y="1280.2" width="6.8" height="6.6" rx="1" fill="#333333"/><rect x="464.6" y="1281.7" width="1.6" height="1.4" fill="#8a8a8a"/><rect x="471.6" y="1280.2" width="6.8" height="6.6" rx="1" fill="#333333"/><rect x="473.2" y="1281.7" width="1.6" height="1.4" fill="#8a8a8a"/><rect x="480.3" y="1280.2" width="6.8" height="6.6" rx="1" fill="#333333"/><rect x="481.9" y="1281.7" width="1.6" height="1.4" fill="#8a8a8a"/><rect x="488.9" y="1280.2" width="6.8" height="6.6" rx="1" fill="#333333"/><rect x="490.6" y="1281.7" width="1.6" height="1.4" fill="#8a8a8a"/><rect x="499.0" y="1280.2" width="6.8" height="6.6" rx="1" fill="#333333"/><rect x="500.6" y="1281.7" width="1.6" height="1.4" fill="#8a8a8a"/><rect x="507.6" y="1280.2" width="6.8" height="6.6" rx="1" fill="#333333"/><rect x="509.2" y="1281.7" width="1.6" height="1.4" fill="#8a8a8a"/><rect x="516.2" y="1280.2" width="6.8" height="6.6" rx="1" fill="#333333"/><rect x="517.8" y="1281.7" width="1.6" height="1.4" fill="#8a8a8a"/><rect x="527" y="1280.6" width="31" height="6" rx="3" fill="#222"/><rect x="368.8" y="1288.4" width="7.0" height="6.6" rx="1" fill="#333333"/><rect x="370.4" y="1289.9" width="1.6" height="1.4" fill="#8a8a8a"/><rect x="377.4" y="1288.4" width="7.0" height="6.6" rx="1" fill="#333333"/><rect x="379.1" y="1289.9" width="1.6" height="1.4" fill="#8a8a8a"/><rect x="386.1" y="1288.4" width="7.0" height="6.6" rx="1" fill="#333333"/><rect x="387.7" y="1289.9" width="1.6" height="1.4" fill="#8a8a8a"/><rect x="394.7" y="1288.4" width="7.0" height="6.6" rx="1" fill="#333333"/><rect x="396.3" y="1289.9" width="1.6" height="1.4" fill="#8a8a8a"/><rect x="403.4" y="1288.4" width="7.0" height="6.6" rx="1" fill="#333333"/><rect x="405.0" y="1289.9" width="1.6" height="1.4" fill="#8a8a8a"/><rect x="412.0" y="1288.4" width="7.0" height="6.6" rx="1" fill="#333333"/><rect x="413.6" y="1289.9" width="1.6" height="1.4" fill="#8a8a8a"/><rect x="420.7" y="1288.4" width="7.0" height="6.6" rx="1" fill="#333333"/><rect x="422.3" y="1289.9" width="1.6" height="1.4" fill="#8a8a8a"/><rect x="429.3" y="1288.4" width="7.0" height="6.6" rx="1" fill="#333333"/><rect x="430.9" y="1289.9" width="1.6" height="1.4" fill="#8a8a8a"/><rect x="438.0" y="1288.4" width="7.0" height="6.6" rx="1" fill="#333333"/><rect x="439.6" y="1289.9" width="1.6" height="1.4" fill="#8a8a8a"/><rect x="446.6" y="1288.4" width="7.0" height="6.6" rx="1" fill="#333333"/><rect x="448.2" y="1289.9" width="1.6" height="1.4" fill="#8a8a8a"/><rect x="455.3" y="1288.4" width="7.0" height="6.6" rx="1" fill="#333333"/><rect x="456.9" y="1289.9" width="1.6" height="1.4" fill="#8a8a8a"/><rect x="463.9" y="1288.4" width="7.0" height="6.6" rx="1" fill="#333333"/><rect x="465.5" y="1289.9" width="1.6" height="1.4" fill="#8a8a8a"/><rect x="472.6" y="1288.4" width="7.0" height="6.6" rx="1" fill="#333333"/><rect x="474.2" y="1289.9" width="1.6" height="1.4" fill="#8a8a8a"/><rect x="481.2" y="1288.4" width="14.8" height="6.6" rx="1" fill="#333333"/><rect x="482.8" y="1289.9" width="1.6" height="1.4" fill="#8a8a8a"/><rect x="368.8" y="1297.1" width="10.5" height="6.6" rx="1" fill="#333333"/><rect x="370.4" y="1298.6" width="1.6" height="1.4" fill="#8a8a8a"/><rect x="381.0" y="1297.1" width="7.0" height="6.6" rx="1" fill="#333333"/><rect x="382.6" y="1298.6" width="1.6" height="1.4" fill="#8a8a8a"/><rect x="389.6" y="1297.1" width="7.0" height="6.6" rx="1" fill="#333333"/><rect x="391.2" y="1298.6" width="1.6" height="1.4" fill="#8a8a8a"/><rect x="398.3" y="1297.1" width="7.0" height="6.6" rx="1" fill="#333333"/><rect x="399.9" y="1298.6" width="1.6" height="1.4" fill="#8a8a8a"/><rect x="406.9" y="1297.1" width="7.0" height="6.6" rx="1" fill="#333333"/><rect x="408.5" y="1298.6" width="1.6" height="1.4" fill="#8a8a8a"/><rect x="415.6" y="1297.1" width="7.0" height="6.6" rx="1" fill="#333333"/><rect x="417.2" y="1298.6" width="1.6" height="1.4" fill="#8a8a8a"/><rect x="424.2" y="1297.1" width="7.0" height="6.6" rx="1" fill="#333333"/><rect x="425.8" y="1298.6" width="1.6" height="1.4" fill="#8a8a8a"/><rect x="432.9" y="1297.1" width="7.0" height="6.6" rx="1" fill="#333333"/><rect x="434.5" y="1298.6" width="1.6" height="1.4" fill="#8a8a8a"/><rect x="441.5" y="1297.1" width="7.0" height="6.6" rx="1" fill="#333333"/><rect x="443.1" y="1298.6" width="1.6" height="1.4" fill="#8a8a8a"/><rect x="450.2" y="1297.1" width="7.0" height="6.6" rx="1" fill="#333333"/><rect x="451.8" y="1298.6" width="1.6" height="1.4" fill="#8a8a8a"/><rect x="458.8" y="1297.1" width="7.0" height="6.6" rx="1" fill="#333333"/><rect x="460.4" y="1298.6" width="1.6" height="1.4" fill="#8a8a8a"/><rect x="467.5" y="1297.1" width="7.0" height="6.6" rx="1" fill="#333333"/><rect x="469.1" y="1298.6" width="1.6" height="1.4" fill="#8a8a8a"/><rect x="476.1" y="1297.1" width="7.0" height="6.6" rx="1" fill="#333333"/><rect x="477.7" y="1298.6" width="1.6" height="1.4" fill="#8a8a8a"/><path d="M484.8,1297.1 H496 V1312.3999999999999 H486.8 V1303.6999999999998 H484.8 Z" fill="#333333"/><rect x="368.8" y="1305.8" width="12.5" height="6.6" rx="1" fill="#333333"/><rect x="370.4" y="1307.3" width="1.6" height="1.4" fill="#8a8a8a"/><rect x="383.0" y="1305.8" width="7.0" height="6.6" rx="1" fill="#333333"/><rect x="384.6" y="1307.3" width="1.6" height="1.4" fill="#8a8a8a"/><rect x="391.6" y="1305.8" width="7.0" height="6.6" rx="1" fill="#333333"/><rect x="393.2" y="1307.3" width="1.6" height="1.4" fill="#8a8a8a"/><rect x="400.3" y="1305.8" width="7.0" height="6.6" rx="1" fill="#333333"/><rect x="401.9" y="1307.3" width="1.6" height="1.4" fill="#8a8a8a"/><rect x="408.9" y="1305.8" width="7.0" height="6.6" rx="1" fill="#333333"/><rect x="410.5" y="1307.3" width="1.6" height="1.4" fill="#8a8a8a"/><rect x="417.6" y="1305.8" width="7.0" height="6.6" rx="1" fill="#333333"/><rect x="419.2" y="1307.3" width="1.6" height="1.4" fill="#8a8a8a"/><rect x="426.2" y="1305.8" width="7.0" height="6.6" rx="1" fill="#333333"/><rect x="427.8" y="1307.3" width="1.6" height="1.4" fill="#8a8a8a"/><rect x="434.9" y="1305.8" width="7.0" height="6.6" rx="1" fill="#333333"/><rect x="436.5" y="1307.3" width="1.6" height="1.4" fill="#8a8a8a"/><rect x="443.5" y="1305.8" width="7.0" height="6.6" rx="1" fill="#333333"/><rect x="445.1" y="1307.3" width="1.6" height="1.4" fill="#8a8a8a"/><rect x="452.2" y="1305.8" width="7.0" height="6.6" rx="1" fill="#333333"/><rect x="453.8" y="1307.3" width="1.6" height="1.4" fill="#8a8a8a"/><rect x="460.8" y="1305.8" width="7.0" height="6.6" rx="1" fill="#333333"/><rect x="462.4" y="1307.3" width="1.6" height="1.4" fill="#8a8a8a"/><rect x="469.5" y="1305.8" width="7.0" height="6.6" rx="1" fill="#333333"/><rect x="471.1" y="1307.3" width="1.6" height="1.4" fill="#8a8a8a"/><rect x="478.1" y="1305.8" width="7.0" height="6.6" rx="1" fill="#333333"/><rect x="479.7" y="1307.3" width="1.6" height="1.4" fill="#8a8a8a"/><rect x="368.8" y="1314.5" width="16.0" height="6.6" rx="1" fill="#333333"/><rect x="370.4" y="1316.0" width="1.6" height="1.4" fill="#8a8a8a"/><rect x="386.6" y="1314.5" width="7.0" height="6.6" rx="1" fill="#333333"/><rect x="388.2" y="1316.0" width="1.6" height="1.4" fill="#8a8a8a"/><rect x="395.2" y="1314.5" width="7.0" height="6.6" rx="1" fill="#333333"/><rect x="396.9" y="1316.0" width="1.6" height="1.4" fill="#8a8a8a"/><rect x="403.9" y="1314.5" width="7.0" height="6.6" rx="1" fill="#333333"/><rect x="405.5" y="1316.0" width="1.6" height="1.4" fill="#8a8a8a"/><rect x="412.5" y="1314.5" width="7.0" height="6.6" rx="1" fill="#333333"/><rect x="414.1" y="1316.0" width="1.6" height="1.4" fill="#8a8a8a"/><rect x="421.2" y="1314.5" width="7.0" height="6.6" rx="1" fill="#333333"/><rect x="422.8" y="1316.0" width="1.6" height="1.4" fill="#8a8a8a"/><rect x="429.8" y="1314.5" width="7.0" height="6.6" rx="1" fill="#333333"/><rect x="431.4" y="1316.0" width="1.6" height="1.4" fill="#8a8a8a"/><rect x="438.5" y="1314.5" width="7.0" height="6.6" rx="1" fill="#333333"/><rect x="440.1" y="1316.0" width="1.6" height="1.4" fill="#8a8a8a"/><rect x="447.1" y="1314.5" width="7.0" height="6.6" rx="1" fill="#333333"/><rect x="448.7" y="1316.0" width="1.6" height="1.4" fill="#8a8a8a"/><rect x="455.8" y="1314.5" width="7.0" height="6.6" rx="1" fill="#333333"/><rect x="457.4" y="1316.0" width="1.6" height="1.4" fill="#8a8a8a"/><rect x="464.4" y="1314.5" width="7.0" height="6.6" rx="1" fill="#333333"/><rect x="466.0" y="1316.0" width="1.6" height="1.4" fill="#8a8a8a"/><rect x="473.1" y="1314.5" width="22.9" height="6.6" rx="1" fill="#333333"/><rect x="474.7" y="1316.0" width="1.6" height="1.4" fill="#8a8a8a"/><rect x="368.8" y="1323.2" width="8.0" height="6.6" rx="1" fill="#333333"/><rect x="370.4" y="1324.7" width="1.6" height="1.4" fill="#8a8a8a"/><rect x="378.5" y="1323.2" width="8.0" height="6.6" rx="1" fill="#333333"/><rect x="380.1" y="1324.7" width="1.6" height="1.4" fill="#8a8a8a"/><rect x="388.2" y="1323.2" width="8.0" height="6.6" rx="1" fill="#333333"/><rect x="389.8" y="1324.7" width="1.6" height="1.4" fill="#8a8a8a"/><rect x="398.0" y="1323.2" width="58.0" height="6.6" rx="1" fill="#333333"/><rect x="399.6" y="1324.7" width="1.6" height="1.4" fill="#8a8a8a"/><rect x="457.5" y="1323.2" width="8.5" height="6.6" rx="1" fill="#333333"/><rect x="459.1" y="1324.7" width="1.6" height="1.4" fill="#8a8a8a"/><rect x="467.7" y="1323.2" width="8.5" height="6.6" rx="1" fill="#333333"/><rect x="469.3" y="1324.7" width="1.6" height="1.4" fill="#8a8a8a"/><rect x="477.9" y="1323.2" width="8.5" height="6.6" rx="1" fill="#333333"/><rect x="479.5" y="1324.7" width="1.6" height="1.4" fill="#8a8a8a"/><rect x="488.0" y="1323.2" width="8.0" height="6.6" rx="1" fill="#333333"/><rect x="489.6" y="1324.7" width="1.6" height="1.4" fill="#8a8a8a"/><rect x="499.0" y="1288.4" width="7.0" height="6.6" rx="1" fill="#333333"/><rect x="500.6" y="1289.9" width="1.6" height="1.4" fill="#8a8a8a"/><rect x="507.6" y="1288.4" width="7.0" height="6.6" rx="1" fill="#333333"/><rect x="509.2" y="1289.9" width="1.6" height="1.4" fill="#8a8a8a"/><rect x="516.2" y="1288.4" width="7.0" height="6.6" rx="1" fill="#333333"/><rect x="517.8" y="1289.9" width="1.6" height="1.4" fill="#8a8a8a"/><rect x="499.0" y="1297.1" width="7.0" height="6.6" rx="1" fill="#333333"/><rect x="500.6" y="1298.6" width="1.6" height="1.4" fill="#8a8a8a"/><rect x="507.6" y="1297.1" width="7.0" height="6.6" rx="1" fill="#333333"/><rect x="509.2" y="1298.6" width="1.6" height="1.4" fill="#8a8a8a"/><rect x="516.2" y="1297.1" width="7.0" height="6.6" rx="1" fill="#333333"/><rect x="517.8" y="1298.6" width="1.6" height="1.4" fill="#8a8a8a"/><rect x="498.5" y="1305.2" width="25" height="16.8" fill="#363636"/><rect x="507.6" y="1314.5" width="7.0" height="6.6" rx="1" fill="#333333"/><rect x="509.2" y="1316.0" width="1.6" height="1.4" fill="#8a8a8a"/><rect x="499.0" y="1323.2" width="7.0" height="6.6" rx="1" fill="#333333"/><rect x="500.6" y="1324.7" width="1.6" height="1.4" fill="#8a8a8a"/><rect x="507.6" y="1323.2" width="7.0" height="6.6" rx="1" fill="#333333"/><rect x="509.2" y="1324.7" width="1.6" height="1.4" fill="#8a8a8a"/><rect x="516.2" y="1323.2" width="7.0" height="6.6" rx="1" fill="#333333"/><rect x="517.8" y="1324.7" width="1.6" height="1.4" fill="#8a8a8a"/><rect x="526.0" y="1288.4" width="6.8" height="6.6" rx="1" fill="#333333"/><rect x="527.6" y="1289.9" width="1.6" height="1.4" fill="#8a8a8a"/><rect x="534.4" y="1288.4" width="6.8" height="6.6" rx="1" fill="#333333"/><rect x="536.0" y="1289.9" width="1.6" height="1.4" fill="#8a8a8a"/><rect x="542.8" y="1288.4" width="6.8" height="6.6" rx="1" fill="#333333"/><rect x="544.4" y="1289.9" width="1.6" height="1.4" fill="#8a8a8a"/><rect x="551.2" y="1288.4" width="6.8" height="6.6" rx="1" fill="#333333"/><rect x="552.8" y="1289.9" width="1.6" height="1.4" fill="#8a8a8a"/><rect x="526.0" y="1297.1" width="6.8" height="6.6" rx="1" fill="#333333"/><rect x="527.6" y="1298.6" width="1.6" height="1.4" fill="#8a8a8a"/><rect x="534.4" y="1297.1" width="6.8" height="6.6" rx="1" fill="#333333"/><rect x="536.0" y="1298.6" width="1.6" height="1.4" fill="#8a8a8a"/><rect x="542.8" y="1297.1" width="6.8" height="6.6" rx="1" fill="#333333"/><rect x="544.4" y="1298.6" width="1.6" height="1.4" fill="#8a8a8a"/><rect x="551.2" y="1297.1" width="6.8" height="15.3" rx="1" fill="#333333"/><rect x="552.8" y="1298.6" width="1.6" height="1.4" fill="#8a8a8a"/><rect x="526.0" y="1305.8" width="6.8" height="6.6" rx="1" fill="#333333"/><rect x="527.6" y="1307.3" width="1.6" height="1.4" fill="#8a8a8a"/><rect x="534.4" y="1305.8" width="6.8" height="6.6" rx="1" fill="#333333"/><rect x="536.0" y="1307.3" width="1.6" height="1.4" fill="#8a8a8a"/><rect x="542.8" y="1305.8" width="6.8" height="6.6" rx="1" fill="#333333"/><rect x="544.4" y="1307.3" width="1.6" height="1.4" fill="#8a8a8a"/><rect x="526.0" y="1314.5" width="6.8" height="6.6" rx="1" fill="#333333"/><rect x="527.6" y="1316.0" width="1.6" height="1.4" fill="#8a8a8a"/><rect x="534.4" y="1314.5" width="6.8" height="6.6" rx="1" fill="#333333"/><rect x="536.0" y="1316.0" width="1.6" height="1.4" fill="#8a8a8a"/><rect x="542.8" y="1314.5" width="6.8" height="6.6" rx="1" fill="#333333"/><rect x="544.4" y="1316.0" width="1.6" height="1.4" fill="#8a8a8a"/><rect x="551.2" y="1314.5" width="6.8" height="15.3" rx="1" fill="#333333"/><rect x="552.8" y="1316.0" width="1.6" height="1.4" fill="#8a8a8a"/><rect x="526.0" y="1323.2" width="15.2" height="6.6" rx="1" fill="#333333"/><rect x="527.6" y="1324.7" width="1.6" height="1.4" fill="#8a8a8a"/><rect x="542.8" y="1323.2" width="6.8" height="6.6" rx="1" fill="#333333"/><rect x="544.4" y="1324.7" width="1.6" height="1.4" fill="#8a8a8a"/></g><g>
<path d="M650,1268.4 C638,1268.4 630.5,1274 630,1288 C629.6,1296 631.5,1302 630.8,1308 C629.5,1316 628.8,1324 630.5,1331 C633,1340 641,1343.6 650,1343.6 C660,1343.6 668,1339 670,1329 C671.2,1320 670.6,1300 670.2,1288 C669.6,1274 662,1268.4 650,1268.4 Z" fill="url(#mouseg)"/>
<ellipse cx="655" cy="1324" rx="6.5" ry="11" fill="#6a6a6a" opacity="0.45" filter="url(#blur3)"/>
<rect x="646.8" y="1273.4" width="8.7" height="37.6" rx="4.3" fill="#121212"/>
<rect x="648.4" y="1276.8" width="5.4" height="10" rx="1.5" fill="#6a6a6a"/>
<rect x="649.4" y="1278" width="3.4" height="7.6" rx="1" fill="#8a8a8a"/>
<rect x="648.8" y="1293" width="4.6" height="6" rx="1.5" fill="#262626"/>
<rect x="648.8" y="1302" width="4.6" height="6" rx="1.5" fill="#262626"/>
</g><rect x="29.8" y="123" width="356" height="72" rx="36" fill="#0d81f3"/><rect x="29.8" y="836" width="356" height="72" rx="36" fill="#fdaa02"/><g transform="translate(0,250)">
<path d="M30,5 Q30,0 35,0 H705.5 Q710.5,0 710.5,5 V148 H30 Z" fill="#171717"/>
<rect x="31.2" y="2.2" width="678" height="139.6" fill="url(#faceL)"/>
<path d="M31.5,3 Q32.5,0.9 36,0.9 H704.5 Q708,0.9 709,3" stroke="#8e8e8e" stroke-width="1.6" fill="none"/>
<rect x="30" y="143" width="680.5" height="4" fill="#2a2a2a"/>
</g><g transform="translate(81,309.4)">
<path d="M-1,1 H108 V27 L95,42 H12 L-1,27 Z" fill="#111" opacity="0.55"/>
<line x1="13" y1="42.8" x2="94" y2="42.8" stroke="#8a8a86" stroke-width="1"/>
<path d="M3,0 H104 Q107,0 107,3 V25.5 Q107,27 105.5,28.5 L94,38.8 Q93,40 91,40 H16 Q14,40 13,38.8 L1.5,28.5 Q0,27 0,25.5 V3 Q0,0 3,0 Z" fill="#ede3c8"/>
<path d="M5,2.6 H102 Q104.4,2.6 104.4,5 V25 L92.3,37.4 H14.7 L2.6,25 V5 Q2.6,2.6 5,2.6 Z" fill="#030303"/>
<rect x="16.2" y="17.5" width="77.4" height="4.6" rx="2.3" fill="#d4d0c6"/>
<rect x="18" y="19.2" width="73.8" height="1.3" fill="#5e5a52"/>
<g fill="#8f8f86"><rect x="20" y="16.2" width="2" height="1.4"/><rect x="27.5" y="16.2" width="2" height="1.4"/><rect x="35" y="16.2" width="2" height="1.4"/><rect x="42.5" y="16.2" width="2" height="1.4"/><rect x="50" y="16.2" width="2" height="1.4"/><rect x="57.5" y="16.2" width="2" height="1.4"/><rect x="65" y="16.2" width="2" height="1.4"/><rect x="72.5" y="16.2" width="2" height="1.4"/><rect x="80" y="16.2" width="2" height="1.4"/><rect x="87.5" y="16.2" width="2" height="1.4"/></g>
<rect x="22" y="3.4" width="6" height="1.8" fill="#7d6f4a"/><rect x="50" y="3.6" width="8" height="2.2" fill="#b9a876"/><rect x="79" y="3.4" width="6" height="1.8" fill="#7d6f4a"/>
<rect x="34" y="34" width="5" height="3" fill="#a8976a"/><rect x="69" y="34" width="5" height="3" fill="#a8976a"/>
<rect x="3.4" y="9" width="1.4" height="3" fill="#4a4a44"/><rect x="3.4" y="15" width="1.4" height="3" fill="#4a4a44"/>
</g><g transform="translate(248.3,309.2)">
<path d="M-1,1 H108 V27 L95,42 H12 L-1,27 Z" fill="#111" opacity="0.55"/>
<line x1="13" y1="42.8" x2="94" y2="42.8" stroke="#8a8a86" stroke-width="1"/>
<path d="M3,0 H104 Q107,0 107,3 V25.5 Q107,27 105.5,28.5 L94,38.8 Q93,40 91,40 H16 Q14,40 13,38.8 L1.5,28.5 Q0,27 0,25.5 V3 Q0,0 3,0 Z" fill="#ede3c8"/>
<path d="M5,2.6 H102 Q104.4,2.6 104.4,5 V25 L92.3,37.4 H14.7 L2.6,25 V5 Q2.6,2.6 5,2.6 Z" fill="#030303"/>
<rect x="16.2" y="17.5" width="77.4" height="4.6" rx="2.3" fill="#d4d0c6"/>
<rect x="18" y="19.2" width="73.8" height="1.3" fill="#5e5a52"/>
<g fill="#8f8f86"><rect x="20" y="16.2" width="2" height="1.4"/><rect x="27.5" y="16.2" width="2" height="1.4"/><rect x="35" y="16.2" width="2" height="1.4"/><rect x="42.5" y="16.2" width="2" height="1.4"/><rect x="50" y="16.2" width="2" height="1.4"/><rect x="57.5" y="16.2" width="2" height="1.4"/><rect x="65" y="16.2" width="2" height="1.4"/><rect x="72.5" y="16.2" width="2" height="1.4"/><rect x="80" y="16.2" width="2" height="1.4"/><rect x="87.5" y="16.2" width="2" height="1.4"/></g>
<rect x="22" y="3.4" width="6" height="1.8" fill="#7d6f4a"/><rect x="50" y="3.6" width="8" height="2.2" fill="#b9a876"/><rect x="79" y="3.4" width="6" height="1.8" fill="#7d6f4a"/>
<rect x="34" y="34" width="5" height="3" fill="#a8976a"/><rect x="69" y="34" width="5" height="3" fill="#a8976a"/>
<rect x="3.4" y="9" width="1.4" height="3" fill="#4a4a44"/><rect x="3.4" y="15" width="1.4" height="3" fill="#4a4a44"/>
</g><g transform="translate(567.6,302.2)">
<rect x="-1.5" y="-0.5" width="96.6" height="44.5" fill="#141414" opacity="0.6"/>
<line x1="-0.5" y1="44.9" x2="95" y2="44.9" stroke="#8a8a8a" stroke-width="1"/>
<rect x="0" y="0" width="93.6" height="42.3" rx="3.2" fill="#f4f4f4"/>
<rect x="1.6" y="1.6" width="90.4" height="39.1" rx="2" fill="#050505"/>
<rect x="16.8" y="2.7" width="13.6" height="4.6" fill="#4e4e4e"/><rect x="59.4" y="2.7" width="14" height="4.6" fill="#4e4e4e"/>
<rect x="7.6" y="15.6" width="77.3" height="6.5" fill="#525252"/>
<rect x="7.6" y="15.6" width="77.3" height="1.2" fill="#777"/>
<rect x="16" y="23.2" width="8.4" height="3.8" rx="0.8" fill="#f2f2f2"/><rect x="33.4" y="23.2" width="8.8" height="3.8" rx="0.8" fill="#f2f2f2"/>
<rect x="48" y="23.2" width="8.4" height="3.8" rx="0.8" fill="#f2f2f2"/><rect x="65.4" y="23.2" width="8.8" height="3.8" rx="0.8" fill="#f2f2f2"/>
<rect x="27" y="28" width="34" height="9" fill="#1c1c1c"/>
<rect x="4" y="37" width="85" height="1.4" fill="#2a2a2a"/>
<rect x="17.4" y="36.2" width="13" height="3.8" fill="#cfcfcf"/><rect x="60.9" y="36.2" width="12.5" height="3.8" fill="#cfcfcf"/>
</g><circle cx="225" cy="351.6" r="6.3" fill="#071c07"/><path d="M220.2,354.2 Q225,358.6 228.8,355.6" stroke="#c9dccb" stroke-width="1.6" fill="none"/><circle cx="225" cy="351" r="4.4" fill="#74fb74"/><circle cx="225" cy="351" r="3" fill="#3ff43a"/><circle cx="545.2" cy="351.6" r="6.3" fill="#071c07"/><path d="M540.4000000000001,354.2 Q545.2,358.6 549.0,355.6" stroke="#c9dccb" stroke-width="1.6" fill="none"/><circle cx="545.2" cy="351" r="4.4" fill="#74fb74"/><circle cx="545.2" cy="351" r="3" fill="#3ff43a"/><g transform="translate(0,250)">
<path d="M736,6 Q736,0 742,0 H1410.6 Q1416.6,0 1416.6,6 V148 H736 Z" fill="#262626"/>
<line x1="740" y1="0.8" x2="1413" y2="0.8" stroke="#7e7e7e" stroke-width="1.4"/>
<rect x="744.5" y="7.5" width="665.5" height="134.5" rx="4" fill="url(#faceR)" stroke="#111" stroke-width="1.2"/>
<rect x="736" y="146.8" width="680.6" height="1.2" fill="#141414"/>
</g><g transform="translate(813.4,294)">
<rect x="-1" y="1" width="107" height="87" fill="#2a2a2a"/>
<rect x="0" y="0" width="105.3" height="85.7" rx="1.5" fill="#f6f6f6"/>
<path d="M8.7,14.5 H97.4 V67.8 H78.6 V82.2 H27 V67.8 H8.7 Z" fill="#050505"/>
<path d="M3,3 L9,9 V14.5 M102,3 L96,9 V14.5" stroke="#222" stroke-width="1.3" fill="none"/>
<rect x="8.7" y="14.5" width="88.7" height="8" fill="#0b0b0b"/>
<g fill="#d8cfa8">
<rect x="28" y="17" width="3" height="2.6"/><rect x="35.5" y="17" width="3" height="2.6"/><rect x="43" y="17" width="3" height="2.6"/><rect x="50.5" y="17" width="3" height="2.6"/>
<rect x="58" y="17" width="3" height="2.6"/><rect x="65.5" y="17" width="3" height="2.6"/><rect x="73" y="17" width="3" height="2.6"/><rect x="80.5" y="17" width="3" height="2.6"/>
</g>
<g stroke="#3a3a30" stroke-width="1.6"><line x1="29.5" y1="20" x2="31" y2="30"/><line x1="37" y1="20" x2="38" y2="30"/><line x1="82" y1="20" x2="83" y2="30"/></g>
<rect x="8.7" y="44" width="88.7" height="23.8" fill="#1d1d1d"/>
<rect x="27" y="47.5" width="51.6" height="31" fill="#0a0a0a"/>
<rect x="27" y="47.5" width="51.6" height="1.5" fill="#6a6a5a"/>
<g fill="#3c3c2c"><rect x="31" y="50" width="2.6" height="14"/><rect x="38" y="50" width="2.6" height="14"/><rect x="45" y="50" width="2.6" height="14"/><rect x="52" y="50" width="2.6" height="14"/><rect x="59" y="50" width="2.6" height="14"/><rect x="66" y="50" width="2.6" height="14"/><rect x="73" y="50" width="2.6" height="14"/></g>
</g><circle cx="1076.5" cy="330.2" r="15.6" fill="#6a6a6a"/>
<circle cx="1076.5" cy="329.4" r="15.3" fill="#030303"/>
<circle cx="1076.5" cy="329.4" r="11.6" fill="url(#rstg)"/><g transform="translate(1260.2,306.9)">
<rect x="0" y="0" width="73" height="52.5" fill="#050505"/>
<rect x="0.5" y="53.3" width="72.5" height="1.6" fill="#9a9a9a"/>
<rect x="2.7" y="1.6" width="67.7" height="49.3" fill="url(#dcg)"/>
<circle cx="42.5" cy="27" r="23" fill="#030303"/>
<path d="M23,40 A23,23 0 0 0 62,40" stroke="#777" stroke-width="0.8" fill="none"/>
<circle cx="42.5" cy="26.5" r="3.2" fill="#d8d8d8"/>
<circle cx="42.5" cy="27.5" r="1.6" fill="#666"/>
</g><circle cx="977.9" cy="356.90000000000003" r="6.3" fill="#071c07"/><path d="M973.1,359.5 Q977.9,363.90000000000003 981.6999999999999,360.90000000000003" stroke="#c9dccb" stroke-width="1.6" fill="none"/><circle cx="977.9" cy="356.3" r="4.4" fill="#74fb74"/><circle cx="977.9" cy="356.3" r="3" fill="#3ff43a"/><circle cx="1229.2" cy="356.6" r="6" fill="#2a0808"/><path d="M1225.6000000000001,360.6 Q1229.2,363 1232.8,360.6" stroke="#e0b0b0" stroke-width="1.6" fill="none"/><circle cx="1229.2" cy="356" r="4.8" fill="#e31818"/><circle cx="1229.2" cy="356" r="3" fill="#ff0505"/><g transform="translate(0,964)">
<path d="M30,5 Q30,0 35,0 H705.5 Q710.5,0 710.5,5 V148 H30 Z" fill="#171717"/>
<rect x="31.2" y="2.2" width="678" height="139.6" fill="url(#faceL)"/>
<path d="M31.5,3 Q32.5,0.9 36,0.9 H704.5 Q708,0.9 709,3" stroke="#8e8e8e" stroke-width="1.6" fill="none"/>
<rect x="30" y="143" width="680.5" height="4" fill="#2a2a2a"/>
</g><g transform="translate(81,1023.2)">
<path d="M-1,1 H108 V27 L95,42 H12 L-1,27 Z" fill="#111" opacity="0.55"/>
<line x1="13" y1="42.8" x2="94" y2="42.8" stroke="#8a8a86" stroke-width="1"/>
<path d="M3,0 H104 Q107,0 107,3 V25.5 Q107,27 105.5,28.5 L94,38.8 Q93,40 91,40 H16 Q14,40 13,38.8 L1.5,28.5 Q0,27 0,25.5 V3 Q0,0 3,0 Z" fill="#ede3c8"/>
<path d="M5,2.6 H102 Q104.4,2.6 104.4,5 V25 L92.3,37.4 H14.7 L2.6,25 V5 Q2.6,2.6 5,2.6 Z" fill="#030303"/>
<rect x="16.2" y="17.5" width="77.4" height="4.6" rx="2.3" fill="#d4d0c6"/>
<rect x="18" y="19.2" width="73.8" height="1.3" fill="#5e5a52"/>
<g fill="#8f8f86"><rect x="20" y="16.2" width="2" height="1.4"/><rect x="27.5" y="16.2" width="2" height="1.4"/><rect x="35" y="16.2" width="2" height="1.4"/><rect x="42.5" y="16.2" width="2" height="1.4"/><rect x="50" y="16.2" width="2" height="1.4"/><rect x="57.5" y="16.2" width="2" height="1.4"/><rect x="65" y="16.2" width="2" height="1.4"/><rect x="72.5" y="16.2" width="2" height="1.4"/><rect x="80" y="16.2" width="2" height="1.4"/><rect x="87.5" y="16.2" width="2" height="1.4"/></g>
<rect x="22" y="3.4" width="6" height="1.8" fill="#7d6f4a"/><rect x="50" y="3.6" width="8" height="2.2" fill="#b9a876"/><rect x="79" y="3.4" width="6" height="1.8" fill="#7d6f4a"/>
<rect x="34" y="34" width="5" height="3" fill="#a8976a"/><rect x="69" y="34" width="5" height="3" fill="#a8976a"/>
<rect x="3.4" y="9" width="1.4" height="3" fill="#4a4a44"/><rect x="3.4" y="15" width="1.4" height="3" fill="#4a4a44"/>
</g><g transform="translate(413,1015.6)">
<rect x="-1.5" y="-0.5" width="96.6" height="44.5" fill="#141414" opacity="0.6"/>
<line x1="-0.5" y1="44.9" x2="95" y2="44.9" stroke="#8a8a8a" stroke-width="1"/>
<rect x="0" y="0" width="93.6" height="42.3" rx="3.2" fill="#f4f4f4"/>
<rect x="1.6" y="1.6" width="90.4" height="39.1" rx="2" fill="#050505"/>
<rect x="16.8" y="2.7" width="13.6" height="4.6" fill="#4e4e4e"/><rect x="59.4" y="2.7" width="14" height="4.6" fill="#4e4e4e"/>
<rect x="7.6" y="15.6" width="77.3" height="6.5" fill="#525252"/>
<rect x="7.6" y="15.6" width="77.3" height="1.2" fill="#777"/>
<rect x="16" y="23.2" width="8.4" height="3.8" rx="0.8" fill="#f2f2f2"/><rect x="33.4" y="23.2" width="8.8" height="3.8" rx="0.8" fill="#f2f2f2"/>
<rect x="48" y="23.2" width="8.4" height="3.8" rx="0.8" fill="#f2f2f2"/><rect x="65.4" y="23.2" width="8.8" height="3.8" rx="0.8" fill="#f2f2f2"/>
<rect x="27" y="28" width="34" height="9" fill="#1c1c1c"/>
<rect x="4" y="37" width="85" height="1.4" fill="#2a2a2a"/>
<rect x="17.4" y="36.2" width="13" height="3.8" fill="#cfcfcf"/><rect x="60.9" y="36.2" width="12.5" height="3.8" fill="#cfcfcf"/>
</g><g transform="translate(567.2,1015.6)">
<rect x="-1.5" y="-0.5" width="96.6" height="44.5" fill="#141414" opacity="0.6"/>
<line x1="-0.5" y1="44.9" x2="95" y2="44.9" stroke="#8a8a8a" stroke-width="1"/>
<rect x="0" y="0" width="93.6" height="42.3" rx="3.2" fill="#f4f4f4"/>
<rect x="1.6" y="1.6" width="90.4" height="39.1" rx="2" fill="#050505"/>
<rect x="16.8" y="2.7" width="13.6" height="4.6" fill="#4e4e4e"/><rect x="59.4" y="2.7" width="14" height="4.6" fill="#4e4e4e"/>
<rect x="7.6" y="15.6" width="77.3" height="6.5" fill="#525252"/>
<rect x="7.6" y="15.6" width="77.3" height="1.2" fill="#777"/>
<rect x="16" y="23.2" width="8.4" height="3.8" rx="0.8" fill="#f2f2f2"/><rect x="33.4" y="23.2" width="8.8" height="3.8" rx="0.8" fill="#f2f2f2"/>
<rect x="48" y="23.2" width="8.4" height="3.8" rx="0.8" fill="#f2f2f2"/><rect x="65.4" y="23.2" width="8.8" height="3.8" rx="0.8" fill="#f2f2f2"/>
<rect x="27" y="28" width="34" height="9" fill="#1c1c1c"/>
<rect x="4" y="37" width="85" height="1.4" fill="#2a2a2a"/>
<rect x="17.4" y="36.2" width="13" height="3.8" fill="#cfcfcf"/><rect x="60.9" y="36.2" width="12.5" height="3.8" fill="#cfcfcf"/>
</g><circle cx="224.3" cy="1065.1999999999998" r="6.3" fill="#071c07"/><path d="M219.5,1067.8 Q224.3,1072.1999999999998 228.10000000000002,1069.1999999999998" stroke="#c9dccb" stroke-width="1.6" fill="none"/><circle cx="224.3" cy="1064.6" r="4.4" fill="#74fb74"/><circle cx="224.3" cy="1064.6" r="3" fill="#3ff43a"/><circle cx="544.7" cy="1064.6999999999998" r="6.3" fill="#071c07"/><path d="M539.9000000000001,1067.3 Q544.7,1071.6999999999998 548.5,1068.6999999999998" stroke="#c9dccb" stroke-width="1.6" fill="none"/><circle cx="544.7" cy="1064.1" r="4.4" fill="#74fb74"/><circle cx="544.7" cy="1064.1" r="3" fill="#3ff43a"/><path d="M501,997.8 H405 Q394.6,997.8 394.6,1008 V1072 Q394.6,1082.5 405,1082.5 H434.2 M485.6,1082.5 H596.8 M626.8,1082.5 H669 Q679.3,1082.5 679.3,1072 V1008 Q679.3,997.8 669,997.8 H569.4" stroke="#e6e6e6" stroke-width="1.6" fill="none"/><g stroke="#f2f2f2" fill="none" stroke-linecap="round">
<rect x="442" y="1074.7" width="36" height="15" stroke-width="2"/>
<path d="M460.2,1074 C460,1071.5 460.5,1069.5 462.5,1068.8 C464.5,1068.2 466,1070.6 468,1070.8 C469.5,1071 470.8,1069.5 471.8,1068" stroke-width="1.5"/>
<path d="M605,1078 V1078 M604.2,1077.5 C604.2,1073.5 607.5,1071 611.8,1071 C616.2,1071 619.5,1073.5 619.5,1077.5 V1084.5 C619.5,1088.8 616.2,1091.5 611.8,1091.5 C607.5,1091.5 604.2,1088.8 604.2,1084.5 Z" stroke-width="1.7"/>
<path d="M604.5,1078 H619.2 M612,1071 V1078" stroke-width="1.5"/>
<path d="M612,1071 C612,1069 613,1067 615,1067 C617,1067 618,1069.5 620,1069.3 C621.5,1069.1 622.5,1068 623.5,1066.5" stroke-width="1.5"/>
</g>
<g fill="#f2f2f2">
<rect x="445" y="1077.8" width="3.6" height="1.6"/>
<rect x="450.7" y="1077.8" width="1.6" height="1.6"/><rect x="454.2" y="1077.8" width="1.6" height="1.6"/><rect x="458" y="1077.8" width="1.6" height="1.6"/><rect x="461.9" y="1077.8" width="1.6" height="1.6"/><rect x="465.8" y="1077.8" width="1.6" height="1.6"/><rect x="469.6" y="1077.8" width="1.6" height="1.6"/>
<path d="M473.3,1077.8 H475 V1083.2 H471.5 V1081.6 H473.3 Z"/>
<rect x="445" y="1081.5" width="4.8" height="1.6"/>
<rect x="452.6" y="1081.5" width="1.6" height="1.6"/><rect x="456.3" y="1081.5" width="1.6" height="1.6"/><rect x="460" y="1081.5" width="1.6" height="1.6"/><rect x="463.9" y="1081.5" width="1.6" height="1.6"/><rect x="467.7" y="1081.5" width="1.6" height="1.6"/>
<rect x="444.8" y="1085.3" width="1.6" height="1.6"/><rect x="448.7" y="1085.3" width="1.6" height="1.6"/><rect x="452" y="1085.3" width="15.5" height="1.6"/><rect x="469.6" y="1085.3" width="1.6" height="1.6"/><rect x="473.3" y="1085.3" width="1.6" height="1.6"/>
</g><g transform="translate(0,964)">
<path d="M736,6 Q736,0 742,0 H1410.6 Q1416.6,0 1416.6,6 V148 H736 Z" fill="#262626"/>
<line x1="740" y1="0.8" x2="1413" y2="0.8" stroke="#7e7e7e" stroke-width="1.4"/>
<rect x="744.5" y="7.5" width="665.5" height="134.5" rx="4" fill="url(#faceR)" stroke="#111" stroke-width="1.2"/>
<rect x="736" y="146.8" width="680.6" height="1.2" fill="#141414"/>
</g><g transform="translate(813.4,1008)">
<rect x="-1" y="1" width="107" height="87" fill="#2a2a2a"/>
<rect x="0" y="0" width="105.3" height="85.7" rx="1.5" fill="#f6f6f6"/>
<path d="M8.7,14.5 H97.4 V67.8 H78.6 V82.2 H27 V67.8 H8.7 Z" fill="#050505"/>
<path d="M3,3 L9,9 V14.5 M102,3 L96,9 V14.5" stroke="#222" stroke-width="1.3" fill="none"/>
<rect x="8.7" y="14.5" width="88.7" height="8" fill="#0b0b0b"/>
<g fill="#d8cfa8">
<rect x="28" y="17" width="3" height="2.6"/><rect x="35.5" y="17" width="3" height="2.6"/><rect x="43" y="17" width="3" height="2.6"/><rect x="50.5" y="17" width="3" height="2.6"/>
<rect x="58" y="17" width="3" height="2.6"/><rect x="65.5" y="17" width="3" height="2.6"/><rect x="73" y="17" width="3" height="2.6"/><rect x="80.5" y="17" width="3" height="2.6"/>
</g>
<g stroke="#3a3a30" stroke-width="1.6"><line x1="29.5" y1="20" x2="31" y2="30"/><line x1="37" y1="20" x2="38" y2="30"/><line x1="82" y1="20" x2="83" y2="30"/></g>
<rect x="8.7" y="44" width="88.7" height="23.8" fill="#1d1d1d"/>
<rect x="27" y="47.5" width="51.6" height="31" fill="#0a0a0a"/>
<rect x="27" y="47.5" width="51.6" height="1.5" fill="#6a6a5a"/>
<g fill="#3c3c2c"><rect x="31" y="50" width="2.6" height="14"/><rect x="38" y="50" width="2.6" height="14"/><rect x="45" y="50" width="2.6" height="14"/><rect x="52" y="50" width="2.6" height="14"/><rect x="59" y="50" width="2.6" height="14"/><rect x="66" y="50" width="2.6" height="14"/><rect x="73" y="50" width="2.6" height="14"/></g>
</g><circle cx="1076.5" cy="1044.2" r="15.6" fill="#6a6a6a"/>
<circle cx="1076.5" cy="1043.4" r="15.3" fill="#030303"/>
<circle cx="1076.5" cy="1043.4" r="11.6" fill="url(#rstg)"/><g transform="translate(1260.2,1020.9)">
<rect x="0" y="0" width="73" height="52.5" fill="#050505"/>
<rect x="0.5" y="53.3" width="72.5" height="1.6" fill="#9a9a9a"/>
<rect x="2.7" y="1.6" width="67.7" height="49.3" fill="url(#dcg)"/>
<circle cx="42.5" cy="27" r="23" fill="#030303"/>
<path d="M23,40 A23,23 0 0 0 62,40" stroke="#777" stroke-width="0.8" fill="none"/>
<circle cx="42.5" cy="26.5" r="3.2" fill="#d8d8d8"/>
<circle cx="42.5" cy="27.5" r="1.6" fill="#666"/>
</g><circle cx="977.9" cy="1070.8999999999999" r="6.3" fill="#071c07"/><path d="M973.1,1073.5 Q977.9,1077.8999999999999 981.6999999999999,1074.8999999999999" stroke="#c9dccb" stroke-width="1.6" fill="none"/><circle cx="977.9" cy="1070.3" r="4.4" fill="#74fb74"/><circle cx="977.9" cy="1070.3" r="3" fill="#3ff43a"/><circle cx="1229.2" cy="1070.6" r="6" fill="#2a0808"/><path d="M1225.6000000000001,1074.6 Q1229.2,1077 1232.8,1074.6" stroke="#e0b0b0" stroke-width="1.6" fill="none"/><circle cx="1229.2" cy="1070" r="4.8" fill="#e31818"/><circle cx="1229.2" cy="1070" r="3" fill="#ff0505"/><line x1="130" y1="369.2" x2="130" y2="478.6" stroke="#1f78d8" stroke-width="3" stroke-dasharray="10.9 5.55" stroke-dashoffset="0"/><line x1="304.8" y1="366.2" x2="304.8" y2="533" stroke="#1f78d8" stroke-width="3" stroke-dasharray="10.6 5.65" stroke-dashoffset="3.2"/><line x1="312.3" y1="531.4" x2="405" y2="531.4" stroke="#1f78d8" stroke-width="3" stroke-dasharray="10.6 5.7" stroke-dashoffset="0"/><path d="M304.8,525.6 V531.4 H309" stroke="#1f78d8" stroke-width="3" fill="none"/><line x1="614.5" y1="370" x2="614.5" y2="527" stroke="#1f78d8" stroke-width="3" stroke-dasharray="14.3 1.9 10.6 5.6 10.3 5.9 10.3 5.9 10.3 5.9 10.3 5.9 10.3 5.9 10.3 5.9 10.3 5.9 10.3 5.9" stroke-dashoffset="0"/><path d="M614.5,527 V531.6 H605.6" stroke="#1f78d8" stroke-width="3" fill="none"/><line x1="599.5" y1="531.6" x2="510" y2="531.6" stroke="#1f78d8" stroke-width="3" stroke-dasharray="10.4 5.8" stroke-dashoffset="0"/><line x1="1077" y1="370.1" x2="1077" y2="479" stroke="#1f78d8" stroke-width="3" stroke-dasharray="10.7 5.6" stroke-dashoffset="0"/><line x1="1302.7" y1="369.8" x2="1302.7" y2="478.2" stroke="#1f78d8" stroke-width="3" stroke-dasharray="10.6 5.6" stroke-dashoffset="0"/><line x1="135.8" y1="1080.2" x2="135.8" y2="1189.6" stroke="#1f78d8" stroke-width="3" stroke-dasharray="11 5.5" stroke-dashoffset="0"/><line x1="459.2" y1="1081.2" x2="459.2" y2="1254.3" stroke="#1f78d8" stroke-width="3" stroke-dasharray="10.5 5.7" stroke-dashoffset="0"/><line x1="647.8" y1="1081.2" x2="647.8" y2="1254.3" stroke="#1f78d8" stroke-width="3" stroke-dasharray="10.5 5.7" stroke-dashoffset="0"/><line x1="1077" y1="1080.5" x2="1077" y2="1189.4" stroke="#1f78d8" stroke-width="3" stroke-dasharray="10.8 5.5" stroke-dashoffset="0"/><line x1="1302.7" y1="1083.2" x2="1302.7" y2="1191.8" stroke="#1f78d8" stroke-width="3" stroke-dasharray="11 5.4" stroke-dashoffset="0"/><g font-family="Liberation Sans, sans-serif"><text x="456.0" y="89.15846833578793" font-size="57.44" font-weight="bold" fill="#1c1c1c" stroke="#ffffff" stroke-width="0.52" stroke-linejoin="round" textLength="297.15" lengthAdjust="spacingAndGlyphs">Connection</text><text x="767.5" y="89.15846833578793" font-size="57.44" font-weight="bold" fill="#1c1c1c" stroke="#ffffff" stroke-width="0.52" stroke-linejoin="round" textLength="219.76" lengthAdjust="spacingAndGlyphs">Diagram</text><text x="57.0" y="173.1" font-size="41.86" font-weight="bold" fill="#ffffff" textLength="213.5" lengthAdjust="spacingAndGlyphs">Transmitter</text><text x="281.0" y="173.1" font-size="41.86" font-weight="bold" fill="#ffffff" textLength="79.17" lengthAdjust="spacingAndGlyphs">(TX)</text><text x="82.5" y="885.9" font-size="40.12" font-weight="bold" fill="#ffffff" textLength="156.04" lengthAdjust="spacingAndGlyphs">Receiver</text><text x="249.0" y="885.9" font-size="40.12" font-weight="bold" fill="#ffffff" textLength="83.22" lengthAdjust="spacingAndGlyphs">(RX)</text><text x="318.0" y="449.522599704579" font-size="40.47" font-weight="bold" fill="#1c1c1c" stroke="#ffffff" stroke-width="0.45" stroke-linejoin="round" textLength="103.33" lengthAdjust="spacingAndGlyphs">HDMI</text><text x="524.5" y="449.522599704579" font-size="40.47" font-weight="bold" fill="#1c1c1c" stroke="#ffffff" stroke-width="0.45" stroke-linejoin="round" textLength="76.7" lengthAdjust="spacingAndGlyphs">USB</text><text x="27.0" y="668.822599704579" font-size="40.47" font-weight="bold" fill="#1c1c1c" stroke="#ffffff" stroke-width="0.45" stroke-linejoin="round" textLength="105.22" lengthAdjust="spacingAndGlyphs">LOOP</text><text x="142.5" y="668.822599704579" font-size="40.47" font-weight="bold" fill="#1c1c1c" stroke="#ffffff" stroke-width="0.45" stroke-linejoin="round" textLength="80.54" lengthAdjust="spacingAndGlyphs">OUT</text><text x="433.5" y="668.822599704579" font-size="40.47" font-weight="bold" fill="#1c1c1c" stroke="#ffffff" stroke-width="0.45" stroke-linejoin="round" textLength="50.84" lengthAdjust="spacingAndGlyphs">PC</text><text x="956.0" y="519.8217872968982" font-size="40.32" font-weight="bold" fill="#1c1c1c" stroke="#ffffff" stroke-width="0.44" stroke-linejoin="round" textLength="102.65" lengthAdjust="spacingAndGlyphs">Reset</text><text x="1069.0" y="519.8217872968982" font-size="40.32" font-weight="bold" fill="#1c1c1c" stroke="#ffffff" stroke-width="0.44" stroke-linejoin="round" textLength="126.74" lengthAdjust="spacingAndGlyphs">Button</text><text x="1251.0" y="669.022599704579" font-size="40.47" font-weight="bold" fill="#1c1c1c" stroke="#ffffff" stroke-width="0.45" stroke-linejoin="round" textLength="103.61" lengthAdjust="spacingAndGlyphs">DC5V</text><text x="614.5" y="753.02341211226" font-size="40.62" font-weight="bold" fill="#167ff0" stroke="#ffffff" stroke-width="0.45" stroke-linejoin="round" textLength="199.6" lengthAdjust="spacingAndGlyphs">CAT5e/6/7</text><text x="606.0" y="798.42341211226" font-size="40.62" font-weight="bold" fill="#167ff0" stroke="#ffffff" stroke-width="0.45" stroke-linejoin="round" textLength="217.08" lengthAdjust="spacingAndGlyphs">120m/400ft</text><text x="518.0" y="834.3259231905465" font-size="22.9" font-weight="bold" fill="#1c1c1c" stroke="#ffffff" stroke-width="0.25" stroke-linejoin="round" textLength="306.53" lengthAdjust="spacingAndGlyphs">No network cable accessories</text><text x="49.5" y="1392.2193500738551" font-size="39.88" font-weight="bold" fill="#1c1c1c" stroke="#ffffff" stroke-width="0.44" stroke-linejoin="round" textLength="101.34" lengthAdjust="spacingAndGlyphs">HDMI</text><text x="161.5" y="1392.2193500738551" font-size="39.88" font-weight="bold" fill="#1c1c1c" stroke="#ffffff" stroke-width="0.44" stroke-linejoin="round" textLength="81.57" lengthAdjust="spacingAndGlyphs">OUT</text><text x="374.0" y="1388.022599704579" font-size="40.47" font-weight="bold" fill="#1c1c1c" stroke="#ffffff" stroke-width="0.45" stroke-linejoin="round" textLength="180.18" lengthAdjust="spacingAndGlyphs">Keyboard</text><text x="589.0" y="1392.2193500738551" font-size="39.88" font-weight="bold" fill="#1c1c1c" stroke="#ffffff" stroke-width="0.44" stroke-linejoin="round" textLength="118.67" lengthAdjust="spacingAndGlyphs">Mouse</text><text x="956.0" y="1230.521787296898" font-size="40.32" font-weight="bold" fill="#1c1c1c" stroke="#ffffff" stroke-width="0.44" stroke-linejoin="round" textLength="102.65" lengthAdjust="spacingAndGlyphs">Reset</text><text x="1069.0" y="1230.521787296898" font-size="40.32" font-weight="bold" fill="#1c1c1c" stroke="#ffffff" stroke-width="0.44" stroke-linejoin="round" textLength="126.74" lengthAdjust="spacingAndGlyphs">Button</text><text x="1251.0" y="1392.2193500738551" font-size="39.88" font-weight="bold" fill="#1c1c1c" stroke="#ffffff" stroke-width="0.44" stroke-linejoin="round" textLength="103.61" lengthAdjust="spacingAndGlyphs">DC5V</text><text x="68.5" y="291.2" font-size="19.91" font-weight="normal" fill="#e0e0e0" letter-spacing="-1.2" textLength="127.02" lengthAdjust="spacingAndGlyphs">HDMI OUT</text><text x="251.0" y="291.0" font-size="20.35" font-weight="normal" fill="#e0e0e0" letter-spacing="-1.2" textLength="99.07" lengthAdjust="spacingAndGlyphs">HDMI IN</text><text x="550.0" y="290.7" font-size="19.33" font-weight="normal" fill="#e0e0e0" letter-spacing="-1.2" textLength="126.05" lengthAdjust="spacingAndGlyphs">USB PC IN</text><text x="809.5" y="283.9" font-size="18.9" font-weight="normal" fill="#e0e0e0" letter-spacing="-1.2" textLength="111.5" lengthAdjust="spacingAndGlyphs">CAT5e/6</text><text x="1048.0" y="296.5" font-size="19.77" font-weight="normal" fill="#e0e0e0" letter-spacing="-1.2" textLength="51.54" lengthAdjust="spacingAndGlyphs">RST</text><text x="1255.0" y="296.2" font-size="18.9" font-weight="normal" fill="#e0e0e0" letter-spacing="-1.2" textLength="78.01" lengthAdjust="spacingAndGlyphs">DC 5V</text><text x="68.5" y="1004.8" font-size="19.77" font-weight="normal" fill="#e0e0e0" letter-spacing="-1.2" textLength="126.52" lengthAdjust="spacingAndGlyphs">HDMI OUT</text><text x="505.0" y="1005.3" font-size="20.49" font-weight="normal" fill="#e0e0e0" letter-spacing="-1.2" textLength="59.25" lengthAdjust="spacingAndGlyphs">K/M</text><text x="809.5" y="997.9" font-size="18.9" font-weight="normal" fill="#e0e0e0" letter-spacing="-1.2" textLength="111.5" lengthAdjust="spacingAndGlyphs">CAT5e/6</text><text x="1048.0" y="1010.5" font-size="19.77" font-weight="normal" fill="#e0e0e0" letter-spacing="-1.2" textLength="51.54" lengthAdjust="spacingAndGlyphs">RST</text><text x="1255.0" y="1010.2" font-size="18.9" font-weight="normal" fill="#e0e0e0" letter-spacing="-1.2" textLength="78.01" lengthAdjust="spacingAndGlyphs">DC 5V</text></g><line x1="520" y1="838.3" x2="823.5" y2="838.3" stroke="#444" stroke-width="1.6"/>
</svg></body></html>
